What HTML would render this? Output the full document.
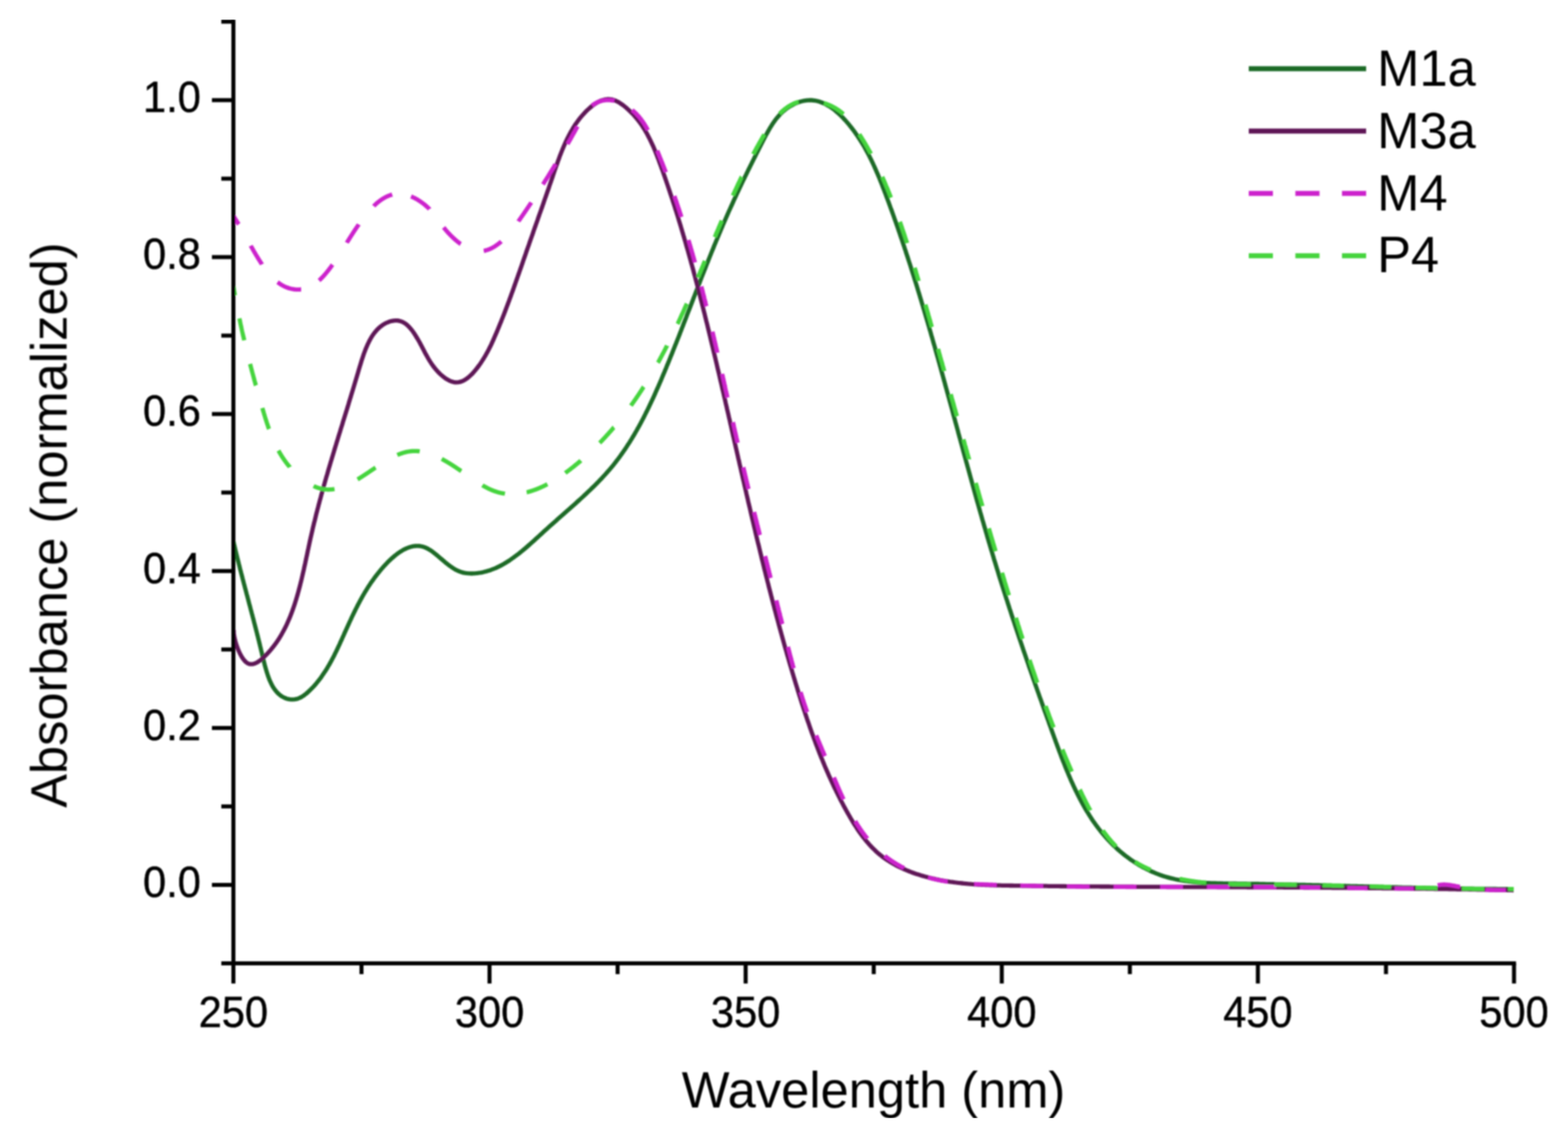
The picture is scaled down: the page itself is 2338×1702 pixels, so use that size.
<!DOCTYPE html>
<html><head><meta charset="utf-8"><title>Absorbance spectra</title>
<style>
html,body{margin:0;padding:0;background:#fff;}
body{width:2338px;height:1702px;overflow:hidden;}
svg{display:block;}
text{font-family:"Liberation Sans",Arial,sans-serif;fill:#000;}
</style></head><body>
<svg width="2338" height="1702" viewBox="0 0 2338 1702">
<defs><filter id="soft" x="0" y="0" width="1" height="1"><feGaussianBlur stdDeviation="1.0"/></filter></defs>
<rect width="2338" height="1702" fill="#fff"/>
<g filter="url(#soft)">
<g fill="none" stroke-linejoin="round">
<path d="M347.9,807.2 L348.7,810.4 L349.4,813.6 L350.2,816.7 L350.9,819.9 L351.6,822.9 L352.4,826.0 L353.1,829.1 L353.9,832.1 L354.6,835.1 L355.4,838.1 L356.1,841.0 L356.9,844.0 L357.6,846.9 L358.3,849.8 L359.1,852.7 L359.8,855.6 L360.6,858.4 L361.3,861.3 L362.0,864.1 L362.8,866.9 L363.5,869.8 L364.3,872.6 L365.0,875.4 L365.7,878.2 L366.5,881.0 L367.2,883.8 L367.9,886.5 L368.7,889.3 L369.4,892.1 L370.2,894.9 L370.9,897.7 L371.6,900.5 L372.4,903.3 L373.1,906.0 L373.8,908.8 L374.6,911.6 L375.3,914.5 L376.1,917.3 L376.8,920.1 L377.6,922.9 L378.3,925.8 L379.0,928.6 L379.8,931.5 L380.5,934.4 L381.3,937.3 L382.0,940.2 L382.8,943.1 L383.5,946.1 L384.3,949.1 L385.0,952.0 L385.8,955.1 L386.5,958.1 L387.3,961.1 L388.0,964.2 L388.8,967.3 L389.5,970.5 L390.3,973.6 L391.0,976.8 L391.8,980.0 L392.6,983.2 L393.4,986.4 L394.2,989.7 L395.0,992.9 L395.9,996.1 L396.8,999.2 L397.7,1002.3 L398.7,1005.4 L399.7,1008.4 L400.8,1011.4 L401.9,1014.3 L403.2,1017.1 L404.4,1019.8 L405.8,1022.4 L407.2,1024.9 L408.8,1027.3 L410.4,1029.5 L412.1,1031.6 L413.9,1033.6 L415.8,1035.4 L417.9,1037.1 L420.0,1038.6 L422.2,1039.9 L424.6,1041.0 L427.0,1042.0 L429.4,1042.7 L431.9,1043.2 L434.4,1043.4 L437.0,1043.4 L439.5,1043.2 L442.1,1042.7 L444.6,1041.9 L447.1,1040.9 L449.6,1039.6 L452.0,1038.1 L454.4,1036.4 L456.8,1034.5 L459.1,1032.5 L461.3,1030.4 L463.5,1028.3 L465.7,1026.1 L467.8,1023.9 L469.8,1021.6 L471.8,1019.3 L473.7,1016.9 L475.6,1014.5 L477.5,1012.1 L479.3,1009.6 L481.0,1007.1 L482.7,1004.6 L484.4,1002.1 L486.1,999.5 L487.7,996.9 L489.2,994.2 L490.8,991.6 L492.3,988.9 L493.8,986.2 L495.2,983.5 L496.7,980.8 L498.1,978.1 L499.4,975.3 L500.8,972.6 L502.1,969.8 L503.5,967.0 L504.8,964.2 L506.1,961.5 L507.3,958.7 L508.6,955.9 L509.9,953.1 L511.1,950.3 L512.4,947.5 L513.6,944.7 L514.9,941.9 L516.1,939.2 L517.4,936.4 L518.6,933.7 L519.9,930.9 L521.1,928.2 L522.4,925.5 L523.7,922.7 L524.9,920.0 L526.2,917.3 L527.5,914.6 L528.8,912.0 L530.1,909.3 L531.5,906.6 L532.8,904.0 L534.2,901.3 L535.6,898.7 L537.0,896.1 L538.4,893.5 L539.8,890.9 L541.3,888.3 L542.8,885.7 L544.3,883.2 L545.9,880.6 L547.4,878.1 L549.0,875.6 L550.7,873.1 L552.3,870.6 L554.0,868.1 L555.8,865.6 L557.5,863.2 L559.3,860.7 L561.2,858.3 L563.0,855.9 L565.0,853.5 L566.9,851.1 L568.9,848.8 L570.9,846.4 L573.0,844.1 L575.2,841.8 L577.3,839.5 L579.5,837.3 L581.8,835.1 L584.0,833.0 L586.4,831.0 L588.7,829.0 L591.1,827.1 L593.4,825.3 L595.9,823.7 L598.3,822.1 L600.8,820.6 L603.2,819.3 L605.7,818.1 L608.2,817.1 L610.7,816.2 L613.3,815.5 L615.8,814.9 L618.3,814.5 L620.9,814.3 L623.4,814.3 L626.0,814.5 L628.5,815.0 L631.1,815.6 L633.6,816.5 L636.1,817.6 L638.6,818.9 L641.2,820.4 L643.7,822.1 L646.2,824.0 L648.7,825.9 L651.2,828.0 L653.8,830.1 L656.3,832.3 L658.9,834.5 L661.4,836.7 L664.0,838.9 L666.7,841.0 L669.3,843.1 L672.0,845.0 L674.7,846.9 L677.4,848.6 L680.1,850.2 L682.9,851.5 L685.8,852.7 L688.6,853.6 L691.5,854.4 L694.5,854.9 L697.4,855.2 L700.3,855.4 L703.3,855.5 L706.2,855.4 L709.1,855.2 L712.0,854.9 L714.8,854.5 L717.6,854.1 L720.4,853.5 L723.1,852.8 L725.9,852.1 L728.6,851.3 L731.3,850.4 L733.9,849.4 L736.5,848.4 L739.2,847.3 L741.7,846.1 L744.3,844.9 L746.8,843.6 L749.4,842.2 L751.9,840.8 L754.4,839.3 L756.8,837.7 L759.3,836.2 L761.7,834.5 L764.1,832.8 L766.5,831.1 L768.9,829.3 L771.3,827.5 L773.7,825.7 L776.1,823.8 L778.4,821.9 L780.7,820.0 L783.1,818.0 L785.4,816.0 L787.7,814.0 L790.0,812.0 L792.3,809.9 L794.6,807.9 L796.9,805.8 L799.2,803.7 L801.5,801.6 L803.8,799.5 L806.1,797.4 L808.4,795.3 L810.6,793.2 L812.9,791.1 L815.2,789.1 L817.5,787.0 L819.8,784.9 L822.1,782.9 L824.4,780.8 L826.7,778.8 L829.0,776.8 L831.3,774.7 L833.6,772.7 L835.9,770.7 L838.2,768.7 L840.5,766.6 L842.7,764.6 L845.0,762.6 L847.3,760.6 L849.6,758.6 L851.8,756.6 L854.1,754.6 L856.4,752.6 L858.6,750.6 L860.8,748.5 L863.1,746.5 L865.3,744.5 L867.5,742.5 L869.7,740.5 L871.9,738.4 L874.1,736.4 L876.3,734.3 L878.4,732.3 L880.6,730.2 L882.7,728.1 L884.8,726.1 L887.0,724.0 L889.0,721.9 L891.1,719.8 L893.2,717.6 L895.2,715.5 L897.3,713.4 L899.3,711.2 L901.3,709.0 L903.3,706.8 L905.2,704.6 L907.2,702.4 L909.1,700.2 L911.0,697.9 L912.9,695.7 L914.8,693.4 L916.6,691.1 L918.4,688.8 L920.2,686.4 L922.0,684.1 L923.8,681.7 L925.5,679.3 L927.2,676.9 L928.9,674.5 L930.6,672.0 L932.3,669.6 L933.9,667.1 L935.5,664.6 L937.2,662.1 L938.8,659.6 L940.3,657.1 L941.9,654.6 L943.4,652.0 L945.0,649.5 L946.5,646.9 L948.0,644.3 L949.5,641.7 L950.9,639.1 L952.4,636.5 L953.8,633.9 L955.3,631.2 L956.7,628.6 L958.1,625.9 L959.5,623.3 L960.8,620.6 L962.2,617.9 L963.5,615.2 L964.9,612.5 L966.2,609.8 L967.5,607.1 L968.8,604.4 L970.1,601.6 L971.4,598.9 L972.7,596.2 L974.0,593.4 L975.2,590.7 L976.5,587.9 L977.7,585.1 L978.9,582.4 L980.1,579.6 L981.4,576.8 L982.6,574.0 L983.8,571.3 L985.0,568.5 L986.2,565.7 L987.3,562.9 L988.5,560.1 L989.7,557.3 L990.9,554.5 L992.0,551.7 L993.2,548.9 L994.3,546.1 L995.5,543.3 L996.6,540.5 L997.8,537.7 L998.9,534.9 L1000.0,532.1 L1001.2,529.3 L1002.3,526.5 L1003.4,523.7 L1004.5,520.9 L1005.6,518.1 L1006.7,515.3 L1007.9,512.5 L1009.0,509.7 L1010.1,506.9 L1011.2,504.1 L1012.3,501.3 L1013.4,498.5 L1014.5,495.7 L1015.6,492.9 L1016.6,490.1 L1017.7,487.3 L1018.8,484.5 L1019.9,481.7 L1021.0,478.9 L1022.1,476.1 L1023.2,473.3 L1024.2,470.5 L1025.3,467.7 L1026.4,464.9 L1027.5,462.1 L1028.6,459.4 L1029.6,456.6 L1030.7,453.8 L1031.8,451.0 L1032.9,448.2 L1033.9,445.4 L1035.0,442.6 L1036.1,439.8 L1037.2,437.0 L1038.3,434.2 L1039.3,431.4 L1040.4,428.6 L1041.5,425.8 L1042.6,423.1 L1043.7,420.3 L1044.7,417.5 L1045.8,414.7 L1046.9,411.9 L1048.0,409.1 L1049.1,406.3 L1050.2,403.6 L1051.3,400.8 L1052.4,398.0 L1053.5,395.2 L1054.6,392.4 L1055.7,389.7 L1056.8,386.9 L1057.9,384.1 L1059.0,381.4 L1060.1,378.6 L1061.2,375.8 L1062.4,373.0 L1063.5,370.3 L1064.6,367.5 L1065.7,364.7 L1066.9,362.0 L1068.0,359.2 L1069.2,356.5 L1070.3,353.7 L1071.5,350.9 L1072.6,348.2 L1073.8,345.4 L1074.9,342.7 L1076.1,339.9 L1077.3,337.2 L1078.4,334.4 L1079.6,331.7 L1080.8,328.9 L1082.0,326.2 L1083.2,323.5 L1084.4,320.7 L1085.6,318.0 L1086.8,315.3 L1088.1,312.5 L1089.3,309.8 L1090.5,307.1 L1091.8,304.3 L1093.0,301.6 L1094.2,298.9 L1095.5,296.2 L1096.8,293.4 L1098.0,290.7 L1099.3,288.0 L1100.6,285.3 L1101.8,282.6 L1103.1,279.9 L1104.4,277.1 L1105.7,274.4 L1107.0,271.7 L1108.3,269.0 L1109.6,266.3 L1110.9,263.6 L1112.3,260.9 L1113.6,258.2 L1114.9,255.5 L1116.2,252.7 L1117.6,250.0 L1118.9,247.3 L1120.3,244.6 L1121.6,241.9 L1123.0,239.2 L1124.3,236.5 L1125.7,233.8 L1127.0,231.1 L1128.4,228.4 L1129.8,225.6 L1131.2,222.9 L1132.5,220.2 L1133.9,217.5 L1135.3,214.8 L1136.7,212.1 L1138.1,209.4 L1139.5,206.6 L1140.9,203.9 L1142.3,201.2 L1143.8,198.6 L1145.3,195.9 L1146.8,193.3 L1148.3,190.6 L1149.9,188.1 L1151.5,185.5 L1153.2,183.0 L1154.9,180.6 L1156.7,178.2 L1158.5,175.9 L1160.5,173.6 L1162.4,171.4 L1164.5,169.2 L1166.6,167.2 L1168.9,165.2 L1171.2,163.3 L1173.6,161.5 L1176.1,159.7 L1178.7,158.1 L1181.5,156.6 L1184.2,155.2 L1187.1,153.9 L1190.0,152.8 L1192.9,151.8 L1195.9,151.0 L1198.8,150.3 L1201.7,149.9 L1204.6,149.6 L1207.5,149.5 L1210.4,149.5 L1213.2,149.8 L1216.0,150.2 L1218.7,150.8 L1221.4,151.6 L1224.1,152.5 L1226.7,153.5 L1229.4,154.7 L1231.9,155.9 L1234.5,157.4 L1237.0,158.9 L1239.4,160.5 L1241.9,162.3 L1244.3,164.1 L1246.6,166.0 L1248.9,168.0 L1251.2,170.1 L1253.5,172.2 L1255.7,174.4 L1257.8,176.7 L1260.0,179.0 L1262.0,181.3 L1264.1,183.7 L1266.1,186.1 L1268.0,188.5 L1270.0,191.0 L1271.8,193.4 L1273.7,195.9 L1275.5,198.4 L1277.2,200.9 L1279.0,203.4 L1280.6,206.0 L1282.3,208.5 L1283.9,211.1 L1285.5,213.7 L1287.1,216.2 L1288.6,218.8 L1290.1,221.5 L1291.5,224.1 L1293.0,226.7 L1294.4,229.4 L1295.8,232.0 L1297.1,234.7 L1298.5,237.4 L1299.8,240.1 L1301.1,242.8 L1302.3,245.5 L1303.6,248.2 L1304.8,250.9 L1306.0,253.6 L1307.2,256.4 L1308.4,259.1 L1309.6,261.9 L1310.7,264.6 L1311.8,267.4 L1312.9,270.2 L1314.1,272.9 L1315.1,275.7 L1316.2,278.5 L1317.3,281.3 L1318.4,284.1 L1319.4,286.9 L1320.5,289.7 L1321.5,292.5 L1322.6,295.3 L1323.6,298.1 L1324.7,300.9 L1325.7,303.7 L1326.7,306.5 L1327.7,309.3 L1328.8,312.1 L1329.8,314.9 L1330.8,317.7 L1331.8,320.5 L1332.8,323.3 L1333.8,326.2 L1334.8,329.0 L1335.8,331.8 L1336.8,334.6 L1337.8,337.5 L1338.8,340.3 L1339.7,343.1 L1340.7,345.9 L1341.7,348.8 L1342.6,351.6 L1343.6,354.4 L1344.6,357.3 L1345.5,360.1 L1346.5,363.0 L1347.4,365.8 L1348.4,368.6 L1349.3,371.5 L1350.3,374.3 L1351.2,377.2 L1352.1,380.0 L1353.1,382.9 L1354.0,385.7 L1354.9,388.6 L1355.8,391.4 L1356.8,394.3 L1357.7,397.1 L1358.6,400.0 L1359.5,402.9 L1360.4,405.7 L1361.3,408.6 L1362.2,411.4 L1363.1,414.3 L1364.0,417.2 L1364.9,420.0 L1365.8,422.9 L1366.7,425.8 L1367.6,428.6 L1368.4,431.5 L1369.3,434.4 L1370.2,437.3 L1371.1,440.1 L1371.9,443.0 L1372.8,445.9 L1373.7,448.8 L1374.5,451.6 L1375.4,454.5 L1376.3,457.4 L1377.1,460.3 L1378.0,463.1 L1378.8,466.0 L1379.7,468.9 L1380.5,471.8 L1381.4,474.7 L1382.2,477.6 L1383.1,480.5 L1383.9,483.3 L1384.8,486.2 L1385.6,489.1 L1386.4,492.0 L1387.3,494.9 L1388.1,497.8 L1388.9,500.7 L1389.8,503.6 L1390.6,506.5 L1391.4,509.4 L1392.2,512.3 L1393.1,515.1 L1393.9,518.0 L1394.7,520.9 L1395.5,523.8 L1396.3,526.7 L1397.1,529.6 L1398.0,532.5 L1398.8,535.4 L1399.6,538.3 L1400.4,541.2 L1401.2,544.1 L1402.0,547.0 L1402.8,549.9 L1403.6,552.8 L1404.4,555.7 L1405.2,558.6 L1406.0,561.5 L1406.8,564.4 L1407.6,567.3 L1408.4,570.2 L1409.2,573.1 L1410.0,576.1 L1410.8,579.0 L1411.6,581.9 L1412.4,584.8 L1413.2,587.7 L1414.0,590.6 L1414.8,593.5 L1415.6,596.4 L1416.4,599.3 L1417.2,602.2 L1418.0,605.1 L1418.8,608.0 L1419.6,610.9 L1420.4,613.8 L1421.1,616.7 L1421.9,619.6 L1422.7,622.5 L1423.5,625.4 L1424.3,628.4 L1425.1,631.3 L1425.9,634.2 L1426.7,637.1 L1427.5,640.0 L1428.3,642.9 L1429.0,645.8 L1429.8,648.7 L1430.6,651.6 L1431.4,654.5 L1432.2,657.4 L1433.0,660.3 L1433.8,663.2 L1434.6,666.1 L1435.4,669.0 L1436.1,671.9 L1436.9,674.8 L1437.7,677.7 L1438.5,680.6 L1439.3,683.5 L1440.1,686.4 L1440.9,689.3 L1441.7,692.2 L1442.5,695.1 L1443.3,698.0 L1444.1,700.9 L1444.9,703.8 L1445.7,706.7 L1446.5,709.6 L1447.3,712.5 L1448.1,715.4 L1448.9,718.3 L1449.7,721.2 L1450.5,724.1 L1451.3,727.0 L1452.1,729.9 L1452.9,732.8 L1453.7,735.7 L1454.5,738.6 L1455.3,741.5 L1456.1,744.4 L1456.9,747.3 L1457.8,750.2 L1458.6,753.1 L1459.4,755.9 L1460.2,758.8 L1461.0,761.7 L1461.8,764.6 L1462.7,767.5 L1463.5,770.4 L1464.3,773.3 L1465.1,776.1 L1466.0,779.0 L1466.8,781.9 L1467.6,784.8 L1468.5,787.7 L1469.3,790.5 L1470.1,793.4 L1471.0,796.3 L1471.8,799.2 L1472.6,802.1 L1473.5,804.9 L1474.3,807.8 L1475.2,810.7 L1476.0,813.5 L1476.9,816.4 L1477.7,819.3 L1478.6,822.1 L1479.5,825.0 L1480.3,827.9 L1481.2,830.7 L1482.0,833.6 L1482.9,836.5 L1483.8,839.3 L1484.7,842.2 L1485.5,845.0 L1486.4,847.9 L1487.3,850.8 L1488.2,853.6 L1489.0,856.5 L1489.9,859.3 L1490.8,862.2 L1491.7,865.0 L1492.6,867.9 L1493.5,870.7 L1494.4,873.6 L1495.3,876.4 L1496.2,879.3 L1497.1,882.1 L1498.0,884.9 L1498.9,887.8 L1499.8,890.6 L1500.7,893.5 L1501.7,896.3 L1502.6,899.2 L1503.5,902.0 L1504.4,904.8 L1505.3,907.7 L1506.3,910.5 L1507.2,913.4 L1508.1,916.2 L1509.0,919.0 L1510.0,921.9 L1510.9,924.7 L1511.9,927.5 L1512.8,930.4 L1513.7,933.2 L1514.7,936.0 L1515.6,938.9 L1516.6,941.7 L1517.5,944.5 L1518.5,947.4 L1519.4,950.2 L1520.4,953.1 L1521.3,955.9 L1522.3,958.7 L1523.3,961.6 L1524.2,964.4 L1525.2,967.2 L1526.1,970.1 L1527.1,972.9 L1528.1,975.7 L1529.1,978.6 L1530.0,981.4 L1531.0,984.2 L1532.0,987.1 L1533.0,989.9 L1533.9,992.7 L1534.9,995.6 L1535.9,998.4 L1536.9,1001.3 L1537.9,1004.1 L1538.9,1006.9 L1539.8,1009.8 L1540.8,1012.6 L1541.8,1015.4 L1542.8,1018.3 L1543.8,1021.1 L1544.8,1024.0 L1545.8,1026.8 L1546.8,1029.7 L1547.8,1032.5 L1548.8,1035.3 L1549.8,1038.2 L1550.8,1041.0 L1551.9,1043.9 L1552.9,1046.7 L1553.9,1049.6 L1554.9,1052.4 L1555.9,1055.3 L1556.9,1058.1 L1557.9,1061.0 L1559.0,1063.8 L1560.0,1066.7 L1561.0,1069.5 L1562.0,1072.4 L1563.1,1075.2 L1564.1,1078.1 L1565.1,1081.0 L1566.1,1083.8 L1567.2,1086.7 L1568.2,1089.6 L1569.2,1092.4 L1570.3,1095.3 L1571.3,1098.2 L1572.3,1101.0 L1573.4,1103.9 L1574.4,1106.8 L1575.5,1109.6 L1576.5,1112.5 L1577.6,1115.3 L1578.6,1118.2 L1579.7,1121.1 L1580.8,1123.9 L1581.9,1126.8 L1582.9,1129.6 L1584.0,1132.5 L1585.1,1135.3 L1586.3,1138.1 L1587.4,1141.0 L1588.5,1143.8 L1589.6,1146.6 L1590.8,1149.4 L1592.0,1152.2 L1593.1,1155.0 L1594.3,1157.8 L1595.5,1160.6 L1596.7,1163.4 L1597.9,1166.1 L1599.2,1168.9 L1600.4,1171.6 L1601.7,1174.3 L1603.0,1177.1 L1604.3,1179.8 L1605.6,1182.5 L1606.9,1185.2 L1608.3,1187.8 L1609.6,1190.5 L1611.0,1193.1 L1612.4,1195.8 L1613.9,1198.4 L1615.3,1201.0 L1616.8,1203.6 L1618.2,1206.1 L1619.7,1208.7 L1621.3,1211.2 L1622.8,1213.7 L1624.4,1216.3 L1626.0,1218.7 L1627.6,1221.2 L1629.2,1223.7 L1630.9,1226.1 L1632.6,1228.5 L1634.3,1230.9 L1636.1,1233.2 L1637.8,1235.6 L1639.6,1237.9 L1641.4,1240.2 L1643.3,1242.5 L1645.2,1244.8 L1647.1,1247.0 L1649.0,1249.2 L1651.0,1251.4 L1653.0,1253.6 L1655.0,1255.7 L1657.1,1257.8 L1659.2,1259.9 L1661.3,1262.0 L1663.5,1264.0 L1665.6,1266.0 L1667.9,1268.0 L1670.1,1270.0 L1672.4,1271.9 L1674.7,1273.8 L1677.1,1275.7 L1679.5,1277.5 L1681.9,1279.3 L1684.3,1281.1 L1686.8,1282.8 L1689.3,1284.5 L1691.8,1286.2 L1694.4,1287.8 L1696.9,1289.4 L1699.5,1290.9 L1702.2,1292.4 L1704.8,1293.9 L1707.5,1295.3 L1710.2,1296.7 L1712.9,1298.0 L1715.6,1299.3 L1718.3,1300.5 L1721.1,1301.7 L1723.8,1302.8 L1726.6,1303.9 L1729.4,1305.0 L1732.3,1306.0 L1735.1,1306.9 L1737.9,1307.8 L1740.8,1308.6 L1743.7,1309.4 L1746.5,1310.1 L1749.4,1310.8 L1752.3,1311.5 L1755.3,1312.1 L1758.2,1312.6 L1761.1,1313.2 L1764.1,1313.6 L1767.0,1314.1 L1770.0,1314.5 L1772.9,1314.9 L1775.9,1315.2 L1778.9,1315.6 L1781.9,1315.9 L1784.9,1316.1 L1787.9,1316.4 L1790.9,1316.6 L1793.9,1316.8 L1796.9,1316.9 L1799.9,1317.1 L1802.9,1317.2 L1806.0,1317.3 L1809.0,1317.4 L1812.0,1317.5 L1815.1,1317.6 L1818.1,1317.7 L1821.1,1317.7 L1824.2,1317.8 L1827.2,1317.8 L1830.3,1317.9 L1833.3,1317.9 L1836.3,1317.9 L1839.4,1318.0 L1842.4,1318.0 L1845.4,1318.1 L1848.5,1318.1 L1851.5,1318.1 L1854.5,1318.2 L1857.6,1318.2 L1860.6,1318.3 L1863.6,1318.3 L1866.7,1318.4 L1869.7,1318.4 L1872.7,1318.5 L1875.7,1318.5 L1878.7,1318.6 L1881.8,1318.6 L1884.8,1318.7 L1887.8,1318.8 L1890.8,1318.8 L1893.8,1318.9 L1896.9,1318.9 L1899.9,1319.0 L1902.9,1319.1 L1905.9,1319.1 L1908.9,1319.2 L1911.9,1319.2 L1914.9,1319.3 L1917.9,1319.4 L1921.0,1319.4 L1924.0,1319.5 L1927.0,1319.6 L1930.0,1319.6 L1933.0,1319.7 L1936.0,1319.8 L1939.0,1319.9 L1942.0,1319.9 L1945.0,1320.0 L1948.0,1320.1 L1951.0,1320.1 L1954.0,1320.2 L1957.0,1320.3 L1960.0,1320.4 L1963.0,1320.4 L1966.0,1320.5 L1969.0,1320.6 L1972.0,1320.7 L1975.0,1320.7 L1978.0,1320.8 L1981.0,1320.9 L1984.0,1321.0 L1987.0,1321.1 L1990.0,1321.1 L1993.0,1321.2 L1996.0,1321.3 L1999.0,1321.4 L2002.0,1321.4 L2005.0,1321.5 L2007.9,1321.6 L2010.9,1321.7 L2013.9,1321.8 L2016.9,1321.8 L2019.9,1321.9 L2022.9,1322.0 L2025.9,1322.1 L2028.9,1322.2 L2031.9,1322.2 L2034.9,1322.3 L2037.9,1322.4 L2040.9,1322.5 L2043.8,1322.5 L2046.8,1322.6 L2049.8,1322.7 L2052.8,1322.8 L2055.8,1322.9 L2058.8,1322.9 L2061.8,1323.0 L2064.8,1323.1 L2067.8,1323.2 L2070.8,1323.2 L2073.8,1323.3 L2076.7,1323.4 L2079.7,1323.5 L2082.7,1323.5 L2085.7,1323.6 L2088.7,1323.7 L2091.7,1323.8 L2094.7,1323.8 L2097.7,1323.9 L2100.7,1324.0 L2103.7,1324.0 L2106.7,1324.1 L2109.7,1324.2 L2112.7,1324.2 L2115.7,1324.3 L2118.7,1324.4 L2121.6,1324.4 L2124.6,1324.5 L2127.6,1324.6 L2130.6,1324.6 L2133.6,1324.7 L2136.6,1324.7 L2139.6,1324.8 L2142.6,1324.9 L2145.6,1324.9 L2148.6,1325.0 L2151.6,1325.0 L2154.6,1325.1 L2157.6,1325.1 L2160.6,1325.2 L2163.6,1325.2 L2166.6,1325.3 L2169.6,1325.3 L2172.7,1325.4 L2175.7,1325.4 L2178.7,1325.5 L2181.7,1325.5 L2184.7,1325.6 L2187.7,1325.6 L2190.7,1325.7 L2193.7,1325.7 L2196.7,1325.7 L2199.7,1325.8 L2202.7,1325.8 L2205.8,1325.8 L2208.8,1325.9 L2211.8,1325.9 L2214.8,1325.9 L2217.8,1326.0 L2220.8,1326.0 L2223.9,1326.0 L2226.9,1326.0 L2229.9,1326.0 L2232.9,1326.1 L2235.9,1326.1 L2239.0,1326.1 L2242.0,1326.1 L2245.0,1326.1 L2248.1,1326.1 L2251.1,1326.1 L2254.1,1326.2 L2257.1,1326.2" stroke="#1f6b28" stroke-width="6.3"/>
<path d="M348.4,939.5 L348.4,941.7 L348.5,944.3 L348.9,947.2 L349.5,950.3 L350.2,953.6 L351.1,957.2 L352.2,960.7 L353.4,964.4 L354.7,968.0 L356.2,971.5 L357.8,974.9 L359.5,978.1 L361.3,981.1 L363.2,983.8 L365.2,986.1 L367.2,988.0 L369.3,989.4 L371.4,990.3 L373.6,990.7 L375.8,990.7 L378.1,990.3 L380.3,989.6 L382.6,988.5 L384.8,987.2 L387.1,985.7 L389.3,983.9 L391.4,982.1 L393.6,980.1 L395.7,978.0 L397.7,976.0 L399.7,973.9 L401.7,971.7 L403.6,969.5 L405.4,967.3 L407.2,965.1 L409.0,962.8 L410.7,960.4 L412.4,958.1 L414.0,955.7 L415.6,953.3 L417.1,950.8 L418.6,948.3 L420.1,945.8 L421.5,943.3 L422.9,940.7 L424.3,938.1 L425.6,935.5 L426.9,932.9 L428.1,930.2 L429.3,927.5 L430.5,924.8 L431.7,922.1 L432.8,919.3 L433.9,916.5 L435.0,913.7 L436.0,910.9 L437.0,908.1 L438.0,905.2 L439.0,902.4 L439.9,899.5 L440.8,896.6 L441.7,893.7 L442.6,890.7 L443.5,887.8 L444.3,884.8 L445.1,881.9 L445.9,878.9 L446.7,875.9 L447.5,872.9 L448.2,869.9 L449.0,866.9 L449.7,863.9 L450.4,860.9 L451.1,857.8 L451.8,854.8 L452.5,851.8 L453.2,848.7 L453.8,845.7 L454.5,842.7 L455.2,839.6 L455.8,836.6 L456.5,833.5 L457.1,830.5 L457.8,827.5 L458.4,824.4 L459.0,821.4 L459.7,818.4 L460.3,815.4 L461.0,812.3 L461.6,809.3 L462.3,806.3 L462.9,803.3 L463.6,800.4 L464.3,797.4 L465.0,794.4 L465.7,791.5 L466.3,788.5 L467.0,785.6 L467.7,782.7 L468.4,779.7 L469.2,776.8 L469.9,773.9 L470.6,771.0 L471.3,768.1 L472.0,765.2 L472.8,762.3 L473.5,759.5 L474.3,756.6 L475.0,753.7 L475.8,750.9 L476.5,748.0 L477.3,745.1 L478.1,742.3 L478.8,739.5 L479.6,736.6 L480.4,733.8 L481.2,730.9 L481.9,728.1 L482.7,725.3 L483.5,722.5 L484.3,719.6 L485.1,716.8 L485.9,714.0 L486.7,711.2 L487.6,708.4 L488.4,705.6 L489.2,702.7 L490.0,699.9 L490.8,697.1 L491.7,694.3 L492.5,691.5 L493.3,688.7 L494.2,685.9 L495.0,683.1 L495.9,680.3 L496.7,677.5 L497.6,674.6 L498.4,671.8 L499.3,669.0 L500.1,666.2 L501.0,663.4 L501.8,660.6 L502.7,657.7 L503.6,654.9 L504.4,652.1 L505.3,649.3 L506.2,646.4 L507.1,643.6 L507.9,640.7 L508.8,637.9 L509.7,635.1 L510.6,632.2 L511.4,629.3 L512.3,626.5 L513.2,623.6 L514.1,620.7 L515.0,617.9 L515.9,615.0 L516.8,612.1 L517.7,609.2 L518.6,606.3 L519.5,603.4 L520.3,600.5 L521.2,597.5 L522.1,594.6 L523.0,591.7 L523.9,588.7 L524.8,585.8 L525.7,582.8 L526.6,579.8 L527.5,576.9 L528.4,573.9 L529.3,570.9 L530.2,567.9 L531.1,564.9 L532.0,561.8 L532.9,558.8 L533.8,555.8 L534.7,552.7 L535.6,549.6 L536.5,546.6 L537.5,543.5 L538.4,540.5 L539.3,537.4 L540.3,534.4 L541.3,531.4 L542.3,528.4 L543.4,525.5 L544.5,522.6 L545.6,519.7 L546.8,516.9 L548.0,514.2 L549.3,511.5 L550.6,508.8 L552.0,506.2 L553.4,503.7 L554.9,501.3 L556.5,499.0 L558.1,496.7 L559.9,494.6 L561.7,492.5 L563.5,490.6 L565.5,488.7 L567.6,487.0 L569.7,485.4 L572.0,483.9 L574.4,482.5 L576.8,481.3 L579.3,480.3 L581.8,479.4 L584.4,478.8 L587.0,478.3 L589.6,478.1 L592.3,478.2 L594.8,478.5 L597.4,479.2 L599.9,480.1 L602.3,481.4 L604.7,482.9 L607.0,484.8 L609.2,486.9 L611.3,489.2 L613.4,491.6 L615.4,494.2 L617.3,496.9 L619.1,499.7 L620.8,502.5 L622.5,505.2 L624.1,508.0 L625.7,510.8 L627.1,513.5 L628.6,516.3 L630.0,519.0 L631.5,521.8 L632.9,524.5 L634.3,527.2 L635.8,529.9 L637.3,532.5 L638.8,535.2 L640.3,537.8 L642.0,540.4 L643.7,542.9 L645.5,545.5 L647.4,548.0 L649.4,550.5 L651.5,552.9 L653.7,555.3 L655.9,557.5 L658.3,559.7 L660.7,561.7 L663.2,563.6 L665.7,565.3 L668.3,566.8 L670.8,568.1 L673.4,569.1 L676.0,569.8 L678.6,570.3 L681.1,570.4 L683.6,570.2 L686.1,569.7 L688.6,568.8 L691.0,567.8 L693.4,566.5 L695.7,564.9 L698.0,563.2 L700.2,561.3 L702.4,559.2 L704.6,557.1 L706.6,554.8 L708.7,552.4 L710.6,550.0 L712.5,547.5 L714.4,545.0 L716.2,542.5 L717.9,539.9 L719.5,537.4 L721.2,534.8 L722.7,532.2 L724.3,529.6 L725.7,527.0 L727.2,524.3 L728.6,521.6 L729.9,519.0 L731.3,516.3 L732.6,513.6 L733.8,510.9 L735.1,508.1 L736.3,505.4 L737.5,502.6 L738.7,499.9 L739.9,497.1 L741.1,494.4 L742.2,491.6 L743.4,488.8 L744.5,486.0 L745.6,483.3 L746.8,480.5 L747.9,477.7 L749.0,474.9 L750.1,472.1 L751.2,469.3 L752.3,466.5 L753.4,463.7 L754.4,460.9 L755.5,458.0 L756.6,455.2 L757.6,452.4 L758.7,449.6 L759.7,446.8 L760.8,443.9 L761.8,441.1 L762.8,438.3 L763.9,435.4 L764.9,432.6 L765.9,429.8 L766.9,426.9 L767.9,424.1 L768.9,421.3 L769.9,418.4 L770.9,415.6 L771.9,412.8 L772.9,409.9 L773.9,407.1 L774.9,404.3 L775.9,401.4 L776.9,398.6 L777.9,395.8 L778.9,392.9 L779.8,390.1 L780.8,387.3 L781.8,384.4 L782.8,381.6 L783.8,378.8 L784.7,376.0 L785.7,373.1 L786.7,370.3 L787.7,367.5 L788.7,364.7 L789.6,361.9 L790.6,359.1 L791.6,356.3 L792.6,353.5 L793.6,350.7 L794.6,347.9 L795.5,345.0 L796.5,342.2 L797.5,339.4 L798.5,336.6 L799.5,333.8 L800.5,331.0 L801.5,328.2 L802.4,325.4 L803.4,322.6 L804.4,319.8 L805.4,317.0 L806.4,314.2 L807.4,311.4 L808.4,308.6 L809.4,305.8 L810.4,302.9 L811.3,300.1 L812.3,297.3 L813.3,294.5 L814.3,291.6 L815.3,288.8 L816.3,285.9 L817.3,283.1 L818.3,280.2 L819.2,277.4 L820.2,274.5 L821.2,271.6 L822.2,268.7 L823.2,265.9 L824.2,263.0 L825.1,260.1 L826.1,257.2 L827.1,254.3 L828.1,251.4 L829.1,248.5 L830.2,245.6 L831.2,242.7 L832.2,239.8 L833.3,236.9 L834.3,234.0 L835.4,231.1 L836.5,228.3 L837.7,225.4 L838.8,222.6 L840.0,219.7 L841.2,216.9 L842.4,214.2 L843.7,211.4 L845.0,208.6 L846.3,205.9 L847.7,203.2 L849.1,200.6 L850.5,197.9 L852.0,195.3 L853.5,192.7 L855.0,190.1 L856.6,187.6 L858.3,185.1 L860.0,182.7 L861.7,180.3 L863.5,177.9 L865.4,175.5 L867.3,173.3 L869.3,171.0 L871.3,168.8 L873.4,166.6 L875.5,164.5 L877.7,162.5 L880.0,160.5 L882.3,158.5 L884.7,156.7 L887.1,155.0 L889.6,153.5 L892.1,152.1 L894.6,150.8 L897.2,149.8 L899.8,149.0 L902.4,148.4 L905.1,148.0 L907.7,147.9 L910.4,148.1 L913.1,148.6 L915.8,149.4 L918.5,150.5 L921.2,151.8 L923.8,153.4 L926.4,155.1 L929.0,156.9 L931.5,158.9 L933.9,160.9 L936.2,163.0 L938.5,165.1 L940.7,167.2 L942.9,169.4 L945.0,171.6 L947.0,173.9 L948.9,176.2 L950.8,178.6 L952.7,180.9 L954.5,183.4 L956.2,185.8 L957.9,188.3 L959.5,190.8 L961.1,193.3 L962.6,195.9 L964.1,198.5 L965.5,201.1 L966.9,203.8 L968.3,206.4 L969.6,209.1 L970.9,211.8 L972.2,214.6 L973.5,217.3 L974.7,220.1 L975.8,222.8 L977.0,225.6 L978.1,228.4 L979.3,231.2 L980.3,234.1 L981.4,236.9 L982.5,239.7 L983.5,242.6 L984.6,245.4 L985.6,248.3 L986.6,251.1 L987.7,254.0 L988.7,256.8 L989.7,259.7 L990.7,262.5 L991.7,265.4 L992.7,268.2 L993.7,271.1 L994.6,273.9 L995.6,276.8 L996.6,279.7 L997.5,282.5 L998.5,285.4 L999.4,288.2 L1000.4,291.1 L1001.3,294.0 L1002.3,296.8 L1003.2,299.7 L1004.1,302.6 L1005.0,305.4 L1006.0,308.3 L1006.9,311.2 L1007.8,314.0 L1008.7,316.9 L1009.6,319.8 L1010.5,322.6 L1011.4,325.5 L1012.2,328.4 L1013.1,331.2 L1014.0,334.1 L1014.9,337.0 L1015.7,339.9 L1016.6,342.8 L1017.4,345.6 L1018.3,348.5 L1019.1,351.4 L1020.0,354.3 L1020.8,357.1 L1021.7,360.0 L1022.5,362.9 L1023.3,365.8 L1024.1,368.7 L1025.0,371.6 L1025.8,374.4 L1026.6,377.3 L1027.4,380.2 L1028.2,383.1 L1029.0,386.0 L1029.8,388.9 L1030.6,391.8 L1031.4,394.7 L1032.2,397.5 L1033.0,400.4 L1033.8,403.3 L1034.5,406.2 L1035.3,409.1 L1036.1,412.0 L1036.9,414.9 L1037.6,417.8 L1038.4,420.7 L1039.1,423.6 L1039.9,426.5 L1040.7,429.4 L1041.4,432.3 L1042.2,435.2 L1042.9,438.1 L1043.7,441.0 L1044.4,443.9 L1045.1,446.8 L1045.9,449.7 L1046.6,452.6 L1047.3,455.5 L1048.1,458.4 L1048.8,461.3 L1049.5,464.2 L1050.3,467.1 L1051.0,470.0 L1051.7,472.9 L1052.4,475.8 L1053.1,478.8 L1053.9,481.7 L1054.6,484.6 L1055.3,487.5 L1056.0,490.4 L1056.7,493.3 L1057.4,496.2 L1058.1,499.1 L1058.8,502.0 L1059.5,505.0 L1060.2,507.9 L1060.9,510.8 L1061.6,513.7 L1062.3,516.6 L1063.0,519.5 L1063.7,522.5 L1064.4,525.4 L1065.1,528.3 L1065.8,531.2 L1066.5,534.1 L1067.2,537.1 L1067.9,540.0 L1068.6,542.9 L1069.2,545.8 L1069.9,548.7 L1070.6,551.7 L1071.3,554.6 L1072.0,557.5 L1072.7,560.4 L1073.3,563.3 L1074.0,566.3 L1074.7,569.2 L1075.4,572.1 L1076.1,575.0 L1076.7,578.0 L1077.4,580.9 L1078.1,583.8 L1078.8,586.7 L1079.4,589.7 L1080.1,592.6 L1080.8,595.5 L1081.5,598.5 L1082.1,601.4 L1082.8,604.3 L1083.5,607.2 L1084.1,610.2 L1084.8,613.1 L1085.5,616.0 L1086.2,618.9 L1086.8,621.9 L1087.5,624.8 L1088.2,627.7 L1088.8,630.7 L1089.5,633.6 L1090.2,636.5 L1090.8,639.5 L1091.5,642.4 L1092.2,645.3 L1092.8,648.2 L1093.5,651.2 L1094.2,654.1 L1094.8,657.0 L1095.5,660.0 L1096.2,662.9 L1096.8,665.8 L1097.5,668.8 L1098.2,671.7 L1098.8,674.6 L1099.5,677.5 L1100.2,680.5 L1100.8,683.4 L1101.5,686.3 L1102.2,689.3 L1102.8,692.2 L1103.5,695.1 L1104.2,698.1 L1104.9,701.0 L1105.5,703.9 L1106.2,706.9 L1106.9,709.8 L1107.5,712.7 L1108.2,715.6 L1108.9,718.6 L1109.6,721.5 L1110.2,724.4 L1110.9,727.4 L1111.6,730.3 L1112.3,733.2 L1112.9,736.1 L1113.6,739.1 L1114.3,742.0 L1115.0,744.9 L1115.6,747.9 L1116.3,750.8 L1117.0,753.7 L1117.7,756.6 L1118.4,759.6 L1119.1,762.5 L1119.7,765.4 L1120.4,768.4 L1121.1,771.3 L1121.8,774.2 L1122.5,777.1 L1123.2,780.1 L1123.9,783.0 L1124.6,785.9 L1125.3,788.8 L1126.0,791.8 L1126.6,794.7 L1127.3,797.6 L1128.0,800.5 L1128.7,803.4 L1129.4,806.4 L1130.1,809.3 L1130.9,812.2 L1131.6,815.1 L1132.3,818.1 L1133.0,821.0 L1133.7,823.9 L1134.4,826.8 L1135.1,829.7 L1135.8,832.7 L1136.5,835.6 L1137.3,838.5 L1138.0,841.4 L1138.7,844.3 L1139.4,847.2 L1140.1,850.2 L1140.9,853.1 L1141.6,856.0 L1142.3,858.9 L1143.1,861.8 L1143.8,864.7 L1144.5,867.6 L1145.3,870.5 L1146.0,873.5 L1146.7,876.4 L1147.5,879.3 L1148.2,882.2 L1149.0,885.1 L1149.7,888.0 L1150.5,890.9 L1151.2,893.8 L1152.0,896.7 L1152.7,899.6 L1153.5,902.5 L1154.3,905.4 L1155.0,908.3 L1155.8,911.2 L1156.6,914.1 L1157.3,917.0 L1158.1,919.9 L1158.9,922.8 L1159.7,925.7 L1160.5,928.6 L1161.2,931.5 L1162.0,934.4 L1162.8,937.3 L1163.6,940.2 L1164.4,943.1 L1165.2,946.0 L1166.0,948.9 L1166.8,951.8 L1167.6,954.7 L1168.4,957.6 L1169.2,960.5 L1170.0,963.3 L1170.8,966.2 L1171.7,969.1 L1172.5,972.0 L1173.3,974.9 L1174.1,977.8 L1175.0,980.6 L1175.8,983.5 L1176.6,986.4 L1177.5,989.3 L1178.3,992.2 L1179.2,995.0 L1180.0,997.9 L1180.9,1000.8 L1181.7,1003.7 L1182.6,1006.5 L1183.4,1009.4 L1184.3,1012.3 L1185.2,1015.2 L1186.0,1018.0 L1186.9,1020.9 L1187.8,1023.8 L1188.7,1026.6 L1189.5,1029.5 L1190.4,1032.4 L1191.3,1035.2 L1192.2,1038.1 L1193.1,1040.9 L1194.0,1043.8 L1194.9,1046.6 L1195.8,1049.5 L1196.8,1052.4 L1197.7,1055.2 L1198.6,1058.1 L1199.6,1060.9 L1200.5,1063.7 L1201.4,1066.6 L1202.4,1069.4 L1203.3,1072.3 L1204.3,1075.1 L1205.3,1077.9 L1206.3,1080.8 L1207.2,1083.6 L1208.2,1086.4 L1209.2,1089.3 L1210.2,1092.1 L1211.2,1094.9 L1212.3,1097.7 L1213.3,1100.5 L1214.3,1103.3 L1215.4,1106.2 L1216.4,1109.0 L1217.5,1111.8 L1218.6,1114.6 L1219.6,1117.4 L1220.7,1120.2 L1221.8,1123.0 L1222.9,1125.7 L1224.0,1128.5 L1225.1,1131.3 L1226.3,1134.1 L1227.4,1136.9 L1228.6,1139.6 L1229.7,1142.4 L1230.9,1145.2 L1232.1,1147.9 L1233.3,1150.7 L1234.5,1153.4 L1235.7,1156.2 L1236.9,1158.9 L1238.2,1161.7 L1239.4,1164.4 L1240.7,1167.1 L1241.9,1169.8 L1243.2,1172.6 L1244.5,1175.3 L1245.8,1178.0 L1247.1,1180.7 L1248.5,1183.4 L1249.8,1186.1 L1251.2,1188.8 L1252.5,1191.5 L1253.9,1194.2 L1255.3,1196.9 L1256.7,1199.5 L1258.1,1202.2 L1259.6,1204.9 L1261.0,1207.5 L1262.5,1210.2 L1264.0,1212.9 L1265.5,1215.5 L1267.0,1218.1 L1268.5,1220.7 L1270.1,1223.4 L1271.6,1226.0 L1273.2,1228.5 L1274.8,1231.1 L1276.5,1233.6 L1278.1,1236.2 L1279.8,1238.7 L1281.5,1241.1 L1283.3,1243.6 L1285.0,1246.0 L1286.8,1248.4 L1288.7,1250.7 L1290.5,1253.1 L1292.4,1255.4 L1294.4,1257.6 L1296.3,1259.9 L1298.3,1262.0 L1300.4,1264.2 L1302.5,1266.3 L1304.6,1268.3 L1306.7,1270.4 L1308.9,1272.3 L1311.2,1274.2 L1313.5,1276.1 L1315.8,1277.9 L1318.2,1279.7 L1320.6,1281.4 L1323.1,1283.1 L1325.6,1284.7 L1328.1,1286.3 L1330.7,1287.8 L1333.3,1289.3 L1335.9,1290.7 L1338.6,1292.1 L1341.3,1293.4 L1344.0,1294.7 L1346.7,1296.0 L1349.5,1297.2 L1352.3,1298.4 L1355.1,1299.5 L1357.9,1300.6 L1360.8,1301.7 L1363.6,1302.7 L1366.5,1303.7 L1369.4,1304.6 L1372.3,1305.5 L1375.3,1306.4 L1378.2,1307.2 L1381.1,1308.0 L1384.1,1308.8 L1387.0,1309.5 L1390.0,1310.2 L1392.9,1310.9 L1395.9,1311.6 L1398.8,1312.2 L1401.8,1312.8 L1404.7,1313.3 L1407.7,1313.9 L1410.7,1314.4 L1413.6,1314.8 L1416.6,1315.3 L1419.6,1315.7 L1422.5,1316.1 L1425.5,1316.5 L1428.5,1316.9 L1431.4,1317.2 L1434.4,1317.5 L1437.4,1317.8 L1440.4,1318.1 L1443.4,1318.4 L1446.4,1318.6 L1449.3,1318.9 L1452.3,1319.1 L1455.3,1319.3 L1458.3,1319.5 L1461.3,1319.6 L1464.3,1319.8 L1467.3,1319.9 L1470.3,1320.1 L1473.3,1320.2 L1476.3,1320.3 L1479.3,1320.4 L1482.2,1320.5 L1485.2,1320.6 L1488.2,1320.6 L1491.2,1320.7 L1494.2,1320.8 L1497.2,1320.8 L1500.2,1320.9 L1503.2,1320.9 L1506.2,1321.0 L1509.2,1321.0 L1512.2,1321.1 L1515.2,1321.1 L1518.2,1321.2 L1521.2,1321.2 L1524.2,1321.3 L1527.2,1321.3 L1530.2,1321.4 L1533.2,1321.4 L1536.2,1321.4 L1539.2,1321.5 L1542.2,1321.5 L1545.2,1321.6 L1548.2,1321.6 L1551.2,1321.6 L1554.3,1321.7 L1557.3,1321.7 L1560.3,1321.7 L1563.3,1321.8 L1566.3,1321.8 L1569.3,1321.8 L1572.3,1321.9 L1575.3,1321.9 L1578.3,1321.9 L1581.3,1322.0 L1584.3,1322.0 L1587.3,1322.0 L1590.3,1322.1 L1593.3,1322.1 L1596.3,1322.1 L1599.3,1322.1 L1602.3,1322.2 L1605.3,1322.2 L1608.3,1322.2 L1611.3,1322.2 L1614.3,1322.3 L1617.3,1322.3 L1620.3,1322.3 L1623.3,1322.3 L1626.3,1322.4 L1629.3,1322.4 L1632.3,1322.4 L1635.3,1322.4 L1638.3,1322.4 L1641.3,1322.5 L1644.3,1322.5 L1647.3,1322.5 L1650.4,1322.5 L1653.4,1322.5 L1656.4,1322.6 L1659.4,1322.6 L1662.4,1322.6 L1665.4,1322.6 L1668.4,1322.6 L1671.4,1322.6 L1674.4,1322.7 L1677.4,1322.7 L1680.4,1322.7 L1683.4,1322.7 L1686.4,1322.7 L1689.4,1322.7 L1692.4,1322.8 L1695.4,1322.8 L1698.4,1322.8 L1701.4,1322.8 L1704.4,1322.8 L1707.4,1322.8 L1710.4,1322.8 L1713.4,1322.8 L1716.4,1322.9 L1719.5,1322.9 L1722.5,1322.9 L1725.5,1322.9 L1728.5,1322.9 L1731.5,1322.9 L1734.5,1322.9 L1737.5,1322.9 L1740.5,1323.0 L1743.5,1323.0 L1746.5,1323.0 L1749.5,1323.0 L1752.5,1323.0 L1755.5,1323.0 L1758.5,1323.0 L1761.5,1323.0 L1764.5,1323.1 L1767.5,1323.1 L1770.5,1323.1 L1773.5,1323.1 L1776.5,1323.1 L1779.5,1323.1 L1782.5,1323.1 L1785.5,1323.1 L1788.6,1323.1 L1791.6,1323.2 L1794.6,1323.2 L1797.6,1323.2 L1800.6,1323.2 L1803.6,1323.2 L1806.6,1323.2 L1809.6,1323.2 L1812.6,1323.2 L1815.6,1323.3 L1818.6,1323.3 L1821.6,1323.3 L1824.6,1323.3 L1827.6,1323.3 L1830.6,1323.3 L1833.6,1323.3 L1836.6,1323.3 L1839.6,1323.4 L1842.6,1323.4 L1845.6,1323.4 L1848.6,1323.4 L1851.6,1323.4 L1854.6,1323.4 L1857.6,1323.4 L1860.6,1323.5 L1863.6,1323.5 L1866.6,1323.5 L1869.7,1323.5 L1872.7,1323.5 L1875.7,1323.5 L1878.7,1323.6 L1881.7,1323.6 L1884.7,1323.6 L1887.7,1323.6 L1890.7,1323.6 L1893.7,1323.6 L1896.7,1323.7 L1899.7,1323.7 L1902.7,1323.7 L1905.7,1323.7 L1908.7,1323.7 L1911.7,1323.7 L1914.7,1323.8 L1917.7,1323.8 L1920.7,1323.8 L1923.7,1323.8 L1926.7,1323.8 L1929.7,1323.9 L1932.7,1323.9 L1935.7,1323.9 L1938.7,1323.9 L1941.7,1323.9 L1944.7,1324.0 L1947.7,1324.0 L1950.7,1324.0 L1953.7,1324.0 L1956.7,1324.0 L1959.7,1324.1 L1962.7,1324.1 L1965.7,1324.1 L1968.7,1324.1 L1971.7,1324.2 L1974.7,1324.2 L1977.7,1324.2 L1980.7,1324.2 L1983.8,1324.2 L1986.8,1324.3 L1989.8,1324.3 L1992.8,1324.3 L1995.8,1324.3 L1998.8,1324.4 L2001.8,1324.4 L2004.8,1324.4 L2007.8,1324.4 L2010.8,1324.5 L2013.8,1324.5 L2016.8,1324.5 L2019.8,1324.6 L2022.8,1324.6 L2025.8,1324.6 L2028.8,1324.6 L2031.8,1324.7 L2034.8,1324.7 L2037.8,1324.7 L2040.8,1324.8 L2043.8,1324.8 L2046.8,1324.8 L2049.8,1324.9 L2052.8,1324.9 L2055.8,1324.9 L2058.8,1324.9 L2061.8,1325.0 L2064.8,1325.0 L2067.8,1325.0 L2070.8,1325.1 L2073.8,1325.1 L2076.8,1325.1 L2079.8,1325.2 L2082.8,1325.2 L2085.8,1325.3 L2088.8,1325.3 L2091.8,1325.3 L2094.8,1325.4 L2097.8,1325.4 L2100.8,1325.4 L2103.8,1325.5 L2106.8,1325.5 L2109.9,1325.5 L2112.9,1325.6 L2115.9,1325.6 L2118.9,1325.7 L2121.9,1325.7 L2124.9,1325.7 L2127.9,1325.8 L2130.9,1325.8 L2133.9,1325.9 L2136.9,1325.9 L2139.9,1326.0 L2142.9,1326.0 L2145.9,1326.0 L2148.9,1326.1 L2151.9,1326.1 L2154.9,1326.2 L2157.9,1326.2 L2160.9,1326.3 L2163.9,1326.3 L2166.9,1326.4 L2169.9,1326.4 L2172.9,1326.5 L2175.9,1326.5 L2178.9,1326.6 L2181.9,1326.6 L2184.9,1326.6 L2187.9,1326.7 L2190.9,1326.8 L2193.9,1326.8 L2196.9,1326.9 L2199.9,1326.9 L2202.9,1327.0 L2205.9,1327.0 L2209.0,1327.1 L2212.0,1327.1 L2215.0,1327.2 L2218.0,1327.2 L2221.0,1327.3 L2224.0,1327.3 L2227.0,1327.4 L2230.0,1327.5 L2233.0,1327.5 L2236.0,1327.6 L2239.0,1327.6 L2242.0,1327.7 L2245.0,1327.7 L2248.0,1327.8 L2251.0,1327.9 L2254.0,1327.9 L2257.0,1328.0" stroke="#5e1557" stroke-width="6.3"/>
<path d="M347.9,322.0 L348.3,322.6 L348.7,323.3 L349.1,323.9 L349.6,324.6 L350.0,325.2 L350.4,325.8 L350.8,326.5 L351.2,327.1 L351.6,327.8 L352.0,328.4 L352.4,329.0 L352.8,329.7 L353.2,330.3 L353.6,331.0 L354.0,331.6 L354.4,332.3 L354.8,332.9 L355.2,333.6 L355.6,334.2 L355.9,334.6 M373.9,366.4 L374.2,367.1 L374.6,367.7 L374.9,368.4 L375.3,369.0 L375.7,369.7 L376.0,370.3 L376.4,371.0 L376.8,371.6 L377.1,372.3 L377.5,372.9 L377.9,373.6 L378.3,374.2 L378.6,374.9 L379.0,375.5 L379.4,376.2 L379.7,376.8 L380.1,377.5 L380.5,378.1 L380.9,378.7 L381.3,379.4 L381.6,380.0 L382.0,380.7 L382.4,381.3 L382.8,382.0 L383.2,382.6 L383.6,383.3 L384.0,383.9 L384.4,384.5 L384.8,385.2 L385.2,385.8 L385.5,386.5 L385.9,387.1 L386.4,387.7 L386.8,388.4 L387.2,389.0 L387.6,389.7 L388.0,390.3 L388.4,390.9 L388.8,391.6 L389.2,392.2 L389.6,392.8 L390.1,393.5 L390.5,394.1 L390.6,394.3 M413.9,420.9 L414.5,421.3 L415.1,421.8 L415.7,422.2 L416.3,422.6 L416.9,423.1 L417.5,423.5 L418.1,423.9 L418.7,424.3 L419.4,424.7 L420.0,425.0 L420.6,425.4 L421.3,425.8 L421.9,426.1 L422.6,426.5 L423.2,426.8 L423.9,427.1 L424.6,427.5 L425.2,427.8 L425.9,428.1 L426.6,428.3 L427.3,428.6 L428.0,428.9 L428.7,429.1 L429.4,429.4 L430.1,429.6 L430.8,429.9 L431.5,430.1 L432.2,430.3 L433.0,430.5 L433.7,430.6 L434.5,430.8 L435.2,431.0 L435.9,431.1 L436.7,431.3 L437.4,431.4 L438.2,431.5 L439.0,431.6 L439.7,431.7 L440.5,431.8 L441.2,431.8 L442.0,431.9 L442.7,431.9 L443.5,431.9 L444.2,431.9 L445.0,431.9 L445.8,431.9 L446.5,431.9 L447.2,431.8 L448.0,431.8 L448.7,431.7 L449.0,431.7 M475.7,418.4 L476.3,417.9 L476.9,417.4 L477.4,416.8 L478.0,416.3 L478.5,415.8 L479.1,415.2 L479.6,414.7 L480.2,414.1 L480.7,413.6 L481.3,413.0 L481.8,412.4 L482.3,411.9 L482.8,411.3 L483.4,410.7 L483.9,410.1 L484.4,409.5 L484.9,408.9 L485.4,408.3 L485.9,407.7 L486.4,407.1 L486.9,406.5 L487.4,405.9 L487.9,405.3 L488.4,404.7 L488.9,404.1 L489.4,403.5 L489.9,402.8 L490.4,402.2 L490.8,401.6 L491.3,401.0 L491.8,400.3 L492.3,399.7 L492.7,399.1 L493.2,398.5 L493.7,397.8 L494.1,397.2 L494.6,396.6 L495.0,395.9 L495.5,395.3 L495.8,394.9 M517.2,362.1 L517.5,361.5 L517.9,360.8 L518.3,360.2 L518.7,359.6 L519.1,359.0 L519.4,358.4 L519.8,357.8 L520.2,357.2 L520.6,356.6 L521.0,355.9 L521.4,355.3 L521.8,354.7 L522.1,354.1 L522.5,353.5 L522.9,352.9 L523.3,352.2 L523.7,351.6 L524.1,351.0 L524.5,350.4 L524.9,349.8 L525.3,349.2 L525.7,348.5 L526.1,347.9 L526.5,347.3 L526.9,346.7 L527.3,346.1 L527.7,345.4 L528.1,344.8 L528.5,344.2 L528.9,343.6 L529.4,342.9 L529.8,342.3 L530.2,341.7 L530.6,341.0 L531.0,340.4 L531.4,339.8 L531.9,339.2 L532.3,338.5 L532.7,337.9 L533.2,337.3 L533.6,336.6 L534.0,336.0 L534.5,335.4 L534.9,334.7 L534.9,334.7 M557.3,307.4 L557.8,306.8 L558.4,306.3 L559.0,305.8 L559.5,305.2 L560.1,304.7 L560.7,304.2 L561.2,303.7 L561.8,303.2 L562.4,302.7 L563.0,302.2 L563.6,301.7 L564.1,301.3 L564.7,300.8 L565.3,300.3 L565.9,299.9 L566.5,299.4 L567.1,299.0 L567.7,298.6 L568.3,298.1 L568.9,297.7 L569.5,297.3 L570.1,296.9 L570.7,296.5 L571.4,296.1 L572.0,295.8 L572.6,295.4 L573.2,295.0 L573.8,294.7 L574.5,294.3 L575.1,294.0 L575.7,293.7 L576.4,293.4 L577.0,293.1 L577.6,292.8 L578.3,292.5 L578.9,292.2 L579.6,292.0 L580.2,291.7 L580.9,291.5 L581.5,291.2 L582.2,291.0 L582.8,290.8 L583.5,290.6 L584.2,290.4 L584.8,290.2 L584.8,290.2 M612.9,293.0 L613.6,293.3 L614.3,293.6 L615.0,293.9 L615.7,294.3 L616.4,294.6 L617.2,294.9 L617.9,295.3 L618.6,295.7 L619.3,296.0 L620.0,296.4 L620.7,296.8 L621.4,297.2 L622.1,297.6 L622.8,298.0 L623.5,298.4 L624.1,298.9 L624.8,299.3 L625.5,299.7 L626.2,300.2 L626.8,300.6 L627.5,301.1 L628.2,301.6 L628.8,302.0 L629.5,302.5 L630.1,303.0 L630.8,303.5 L631.4,304.0 L632.0,304.4 L632.6,304.9 L633.3,305.4 L633.9,305.9 L634.5,306.5 L635.1,307.0 L635.7,307.5 L636.3,308.0 L636.8,308.5 L637.4,309.0 L638.0,309.6 L638.5,310.1 L639.1,310.6 L639.6,311.2 L640.2,311.7 L640.3,311.9 M661.5,339.2 L662.0,339.8 L662.5,340.4 L662.9,341.0 L663.4,341.6 L663.9,342.2 L664.4,342.8 L664.9,343.4 L665.4,343.9 L665.9,344.5 L666.4,345.1 L666.9,345.7 L667.5,346.3 L668.0,346.9 L668.5,347.5 L669.1,348.1 L669.6,348.6 L670.1,349.2 L670.7,349.8 L671.3,350.4 L671.8,350.9 L672.4,351.5 L672.9,352.1 L673.5,352.6 L674.1,353.2 L674.7,353.7 L675.2,354.3 L675.8,354.9 L676.4,355.4 L677.0,355.9 L677.6,356.5 L678.2,357.0 L678.8,357.5 L679.4,358.1 L680.0,358.6 L680.6,359.1 L681.3,359.6 L681.9,360.1 L682.5,360.6 L683.1,361.1 L683.8,361.6 L684.4,362.1 L685.0,362.5 L685.7,363.0 L686.3,363.5 L687.0,363.9 L687.0,363.9 M721.3,374.2 L722.0,374.1 L722.7,373.9 L723.3,373.8 L724.0,373.6 L724.7,373.4 L725.4,373.2 L726.1,373.0 L726.8,372.8 L727.5,372.6 L728.2,372.3 L728.8,372.1 L729.5,371.8 L730.2,371.5 L730.9,371.2 L731.5,370.9 L732.2,370.6 L732.9,370.3 L733.5,369.9 L734.2,369.6 L734.9,369.2 L735.5,368.9 L736.2,368.5 L736.8,368.1 L737.5,367.7 L738.1,367.3 L738.7,366.9 L739.4,366.4 L740.0,366.0 L740.7,365.6 L741.3,365.1 L741.9,364.7 L742.5,364.2 L743.1,363.8 L743.7,363.3 L744.4,362.8 L745.0,362.3 L745.5,361.8 L746.1,361.4 L746.7,360.9 L747.3,360.4 L747.5,360.2 M773.0,330.2 L773.4,329.5 L773.8,328.9 L774.3,328.3 L774.7,327.7 L775.1,327.1 L775.6,326.4 L776.0,325.8 L776.4,325.2 L776.9,324.6 L777.3,324.0 L777.7,323.4 L778.2,322.7 L778.6,322.1 L779.0,321.5 L779.5,320.9 L779.9,320.2 L780.3,319.6 L780.7,319.0 L781.2,318.4 L781.6,317.8 L782.0,317.1 L782.5,316.5 L782.9,315.9 L783.3,315.3 L783.7,314.6 L784.2,314.0 L784.6,313.4 L785.0,312.8 L785.4,312.1 L785.8,311.5 L786.3,310.9 L786.7,310.3 L787.1,309.6 L787.5,309.0 L788.0,308.4 L788.4,307.8 L788.8,307.1 L789.2,306.5 L789.6,305.9 L790.0,305.3 L790.5,304.6 L790.9,304.0 L791.3,303.4 L791.7,302.8 L792.1,302.1 L792.1,302.1 M809.6,275.0 L810.0,274.4 L810.4,273.8 L810.8,273.1 L811.2,272.5 L811.6,271.9 L812.0,271.2 L812.4,270.6 L812.8,270.0 L813.2,269.3 L813.6,268.7 L814.0,268.1 L814.4,267.5 L814.8,266.8 L815.2,266.2 L815.6,265.6 L816.0,264.9 L816.4,264.3 L816.8,263.7 L817.2,263.0 L817.6,262.4 L817.9,261.8 L818.3,261.1 L818.7,260.5 L819.1,259.9 L819.5,259.2 L819.9,258.6 L820.3,258.0 L820.7,257.3 L821.1,256.7 L821.5,256.1 L821.9,255.4 L822.3,254.8 L822.6,254.2 L823.0,253.5 L823.4,252.9 L823.8,252.3 L824.2,251.6 L824.6,251.0 L825.0,250.4 L825.4,249.7 L825.8,249.1 L826.1,248.5 L826.5,247.8 L826.9,247.2 L827.3,246.6 L827.7,245.9 L828.1,245.3 L828.3,244.9 M846.3,214.9 L846.7,214.2 L847.0,213.6 L847.4,212.9 L847.8,212.3 L848.2,211.6 L848.6,211.0 L848.9,210.3 L849.3,209.7 L849.7,209.0 L850.1,208.4 L850.4,207.7 L850.8,207.0 L851.2,206.4 L851.6,205.7 L851.9,205.1 L852.3,204.4 L852.7,203.7 L853.0,203.1 L853.4,202.4 L853.8,201.7 L854.2,201.1 L854.5,200.4 L854.9,199.7 L855.3,199.1 L855.7,198.4 L856.0,197.7 L856.4,197.1 L856.8,196.4 L857.2,195.7 L857.5,195.0 L857.9,194.4 L858.3,193.7 L858.6,193.0 L859.0,192.3 L859.4,191.6 L859.7,191.0 L860.1,190.3 L860.5,189.6 L860.9,188.9 L861.0,188.7 M882.7,157.5 L883.3,157.1 L883.8,156.6 L884.4,156.2 L885.0,155.8 L885.6,155.4 L886.2,155.0 L886.8,154.7 L887.4,154.3 L888.0,154.0 L888.6,153.6 L889.3,153.3 L889.9,153.0 L890.6,152.7 L891.2,152.4 L891.9,152.1 L892.5,151.9 L893.2,151.6 L893.9,151.4 L894.5,151.2 L895.2,151.0 L895.9,150.8 L896.6,150.6 L897.3,150.4 L898.0,150.2 L898.7,150.1 L899.4,149.9 L900.1,149.8 L900.8,149.7 L901.5,149.6 L902.3,149.5 L903.0,149.4 L903.7,149.4 L904.4,149.3 L905.2,149.3 L905.9,149.3 L906.7,149.3 L907.4,149.3 L908.1,149.3 L908.9,149.4 L909.6,149.4 L910.4,149.5 L911.1,149.6 L911.9,149.7 L912.6,149.8 L913.4,149.9 L914.2,150.0 L914.9,150.2 L915.7,150.3 L915.9,150.4 M942.6,164.2 L943.2,164.7 L943.8,165.2 L944.3,165.7 L944.9,166.2 L945.5,166.7 L946.0,167.2 L946.6,167.7 L947.1,168.2 L947.6,168.7 L948.2,169.2 L948.7,169.8 L949.2,170.3 L949.7,170.8 L950.2,171.4 L950.7,171.9 L951.2,172.5 L951.7,173.0 L952.2,173.6 L952.7,174.1 L953.2,174.7 L953.6,175.3 L954.1,175.8 L954.6,176.4 L955.0,177.0 L955.5,177.6 L955.9,178.1 L956.4,178.7 L956.8,179.3 L957.2,179.9 L957.7,180.5 L958.1,181.1 L958.5,181.7 L958.9,182.3 L959.3,182.9 L959.8,183.5 L960.2,184.2 L960.6,184.8 L961.0,185.4 L961.4,186.0 L961.7,186.7 L962.1,187.3 L962.5,187.9 L962.9,188.5 L963.3,189.2 L963.6,189.8 L964.0,190.5 L964.4,191.1 L964.7,191.8 L965.1,192.4 L965.5,193.1 L965.8,193.7 L966.0,194.1 M980.0,224.8 L980.3,225.5 L980.6,226.2 L980.8,226.9 L981.1,227.6 L981.4,228.3 L981.7,229.0 L982.0,229.7 L982.3,230.4 L982.6,231.1 L982.8,231.8 L983.1,232.5 L983.4,233.2 L983.7,233.9 L984.0,234.6 L984.2,235.3 L984.5,236.0 L984.8,236.7 L985.1,237.4 L985.4,238.1 L985.6,238.8 L985.9,239.5 L986.2,240.2 L986.5,240.9 L986.7,241.5 L987.0,242.2 L987.3,242.9 L987.6,243.6 L987.9,244.3 L988.1,245.0 L988.4,245.7 L988.7,246.4 L988.9,247.1 L989.2,247.8 L989.5,248.5 L989.8,249.2 L990.0,249.9 L990.3,250.6 L990.6,251.3 L990.8,252.0 L991.1,252.7 L991.4,253.4 L991.6,254.1 L991.9,254.8 L992.2,255.5 L992.5,256.2 L992.7,256.9 L992.7,256.9 M1005.6,292.4 L1005.8,293.1 L1006.1,293.8 L1006.3,294.5 L1006.6,295.2 L1006.8,296.0 L1007.0,296.7 L1007.3,297.4 L1007.5,298.1 L1007.8,298.8 L1008.0,299.5 L1008.3,300.2 L1008.5,300.9 L1008.7,301.6 L1009.0,302.3 L1009.2,303.0 L1009.5,303.8 L1009.7,304.5 L1009.9,305.2 L1010.2,305.9 L1010.4,306.6 L1010.7,307.3 L1010.9,308.0 L1011.1,308.7 L1011.4,309.4 L1011.6,310.1 L1011.8,310.9 L1012.1,311.6 L1012.3,312.3 L1012.5,313.0 L1012.8,313.7 L1013.0,314.4 L1013.2,315.1 L1013.5,315.8 L1013.7,316.6 L1013.9,317.3 L1014.2,318.0 L1014.4,318.7 L1014.6,319.4 L1014.9,320.1 L1015.1,320.8 L1015.3,321.5 L1015.6,322.2 L1015.8,323.0 L1016.0,323.7 L1016.0,323.7 M1026.6,358.0 L1026.8,358.7 L1027.0,359.5 L1027.2,360.2 L1027.5,360.9 L1027.7,361.6 L1027.9,362.3 L1028.1,363.1 L1028.3,363.8 L1028.5,364.5 L1028.7,365.2 L1028.9,365.9 L1029.1,366.7 L1029.4,367.4 L1029.6,368.1 L1029.8,368.8 L1030.0,369.5 L1030.2,370.3 L1030.4,371.0 L1030.6,371.7 L1030.8,372.4 L1031.0,373.1 L1031.2,373.9 L1031.4,374.6 L1031.6,375.3 L1031.8,376.0 L1032.0,376.7 L1032.3,377.5 L1032.5,378.2 L1032.7,378.9 L1032.9,379.6 L1033.1,380.3 L1033.3,381.1 L1033.5,381.8 L1033.7,382.5 L1033.9,383.2 L1034.1,383.9 L1034.3,384.7 L1034.5,385.4 L1034.7,386.1 L1034.9,386.8 L1035.1,387.5 L1035.3,388.3 L1035.5,389.0 L1035.7,389.7 L1035.9,390.4 L1036.1,391.2 L1036.2,391.6 M1045.8,427.4 L1046.0,428.1 L1046.2,428.8 L1046.4,429.5 L1046.5,430.3 L1046.7,431.0 L1046.9,431.7 L1047.1,432.4 L1047.3,433.2 L1047.5,433.9 L1047.7,434.6 L1047.8,435.4 L1048.0,436.1 L1048.2,436.8 L1048.4,437.5 L1048.6,438.3 L1048.8,439.0 L1049.0,439.7 L1049.1,440.4 L1049.3,441.2 L1049.5,441.9 L1049.7,442.6 L1049.9,443.4 L1050.1,444.1 L1050.2,444.8 L1050.4,445.5 L1050.6,446.3 L1050.8,447.0 L1051.0,447.7 L1051.2,448.4 L1051.3,449.2 L1051.5,449.9 L1051.7,450.6 L1051.9,451.4 L1052.1,452.1 L1052.2,452.8 L1052.4,453.5 L1052.6,454.3 L1052.8,455.0 L1053.0,455.7 L1053.1,456.5 L1053.3,456.9 M1062.4,494.6 L1062.5,495.4 L1062.7,496.1 L1062.9,496.8 L1063.0,497.6 L1063.2,498.3 L1063.4,499.0 L1063.6,499.7 L1063.7,500.5 L1063.9,501.2 L1064.1,501.9 L1064.2,502.7 L1064.4,503.4 L1064.6,504.1 L1064.8,504.9 L1064.9,505.6 L1065.1,506.3 L1065.3,507.1 L1065.4,507.8 L1065.6,508.5 L1065.8,509.3 L1065.9,510.0 L1066.1,510.7 L1066.3,511.4 L1066.4,512.2 L1066.6,512.9 L1066.8,513.6 L1067.0,514.4 L1067.1,515.1 L1067.3,515.8 L1067.5,516.6 L1067.6,517.3 L1067.8,518.0 L1068.0,518.8 L1068.1,519.5 L1068.3,520.2 L1068.5,521.0 L1068.6,521.7 L1068.8,522.4 L1069.0,523.2 L1069.1,523.9 L1069.3,524.6 L1069.5,525.4 L1069.6,526.1 L1069.6,526.1 M1076.8,557.6 L1076.9,558.3 L1077.1,559.0 L1077.3,559.8 L1077.4,560.5 L1077.6,561.2 L1077.8,562.0 L1077.9,562.7 L1078.1,563.4 L1078.3,564.2 L1078.4,564.9 L1078.6,565.6 L1078.8,566.4 L1078.9,567.1 L1079.1,567.8 L1079.2,568.6 L1079.4,569.3 L1079.6,570.0 L1079.7,570.8 L1079.9,571.5 L1080.1,572.2 L1080.2,573.0 L1080.4,573.7 L1080.6,574.4 L1080.7,575.2 L1080.9,575.9 L1081.0,576.6 L1081.2,577.4 L1081.4,578.1 L1081.5,578.8 L1081.7,579.6 L1081.9,580.3 L1082.0,581.0 L1082.2,581.8 L1082.4,582.5 L1082.5,583.2 L1082.7,584.0 L1082.8,584.7 L1083.0,585.4 L1083.2,586.2 L1083.3,586.9 L1083.5,587.6 L1083.7,588.4 L1083.8,589.1 L1084.0,589.8 L1084.1,590.6 L1084.3,591.3 L1084.5,592.0 L1084.6,592.8 L1084.7,593.0 M1092.9,629.9 L1093.1,630.6 L1093.3,631.3 L1093.4,632.1 L1093.6,632.8 L1093.8,633.5 L1093.9,634.3 L1094.1,635.0 L1094.3,635.7 L1094.4,636.5 L1094.6,637.2 L1094.7,637.9 L1094.9,638.7 L1095.1,639.4 L1095.2,640.1 L1095.4,640.9 L1095.6,641.6 L1095.7,642.3 L1095.9,643.0 L1096.1,643.8 L1096.2,644.5 L1096.4,645.2 L1096.6,646.0 L1096.7,646.7 L1096.9,647.4 L1097.1,648.2 L1097.2,648.9 L1097.4,649.6 L1097.6,650.4 L1097.7,651.1 L1097.9,651.8 L1098.1,652.6 L1098.2,653.3 L1098.4,654.0 L1098.6,654.8 L1098.7,655.5 L1098.9,656.2 L1099.1,656.9 L1099.2,657.7 L1099.4,658.4 L1099.6,659.1 L1099.7,659.9 L1099.9,660.6 L1099.9,660.6 M1108.4,697.1 L1108.6,697.8 L1108.7,698.6 L1108.9,699.3 L1109.1,700.0 L1109.2,700.8 L1109.4,701.5 L1109.6,702.2 L1109.8,702.9 L1109.9,703.7 L1110.1,704.4 L1110.3,705.1 L1110.5,705.9 L1110.6,706.6 L1110.8,707.3 L1111.0,708.0 L1111.1,708.8 L1111.3,709.5 L1111.5,710.2 L1111.7,711.0 L1111.8,711.7 L1112.0,712.4 L1112.2,713.1 L1112.4,713.9 L1112.5,714.6 L1112.7,715.3 L1112.9,716.1 L1113.1,716.8 L1113.2,717.5 L1113.4,718.2 L1113.6,719.0 L1113.8,719.7 L1113.9,720.4 L1114.1,721.2 L1114.3,721.9 L1114.5,722.6 L1114.6,723.3 L1114.8,724.1 L1115.0,724.8 L1115.2,725.5 L1115.3,726.3 L1115.5,727.0 L1115.7,727.7 L1115.9,728.4 L1116.0,729.2 L1116.2,729.7 M1124.5,763.8 L1124.7,764.6 L1124.9,765.3 L1125.1,766.0 L1125.2,766.7 L1125.4,767.5 L1125.6,768.2 L1125.8,768.9 L1126.0,769.7 L1126.1,770.4 L1126.3,771.1 L1126.5,771.8 L1126.7,772.6 L1126.9,773.3 L1127.0,774.0 L1127.2,774.7 L1127.4,775.5 L1127.6,776.2 L1127.8,776.9 L1127.9,777.7 L1128.1,778.4 L1128.3,779.1 L1128.5,779.8 L1128.7,780.6 L1128.8,781.3 L1129.0,782.0 L1129.2,782.7 L1129.4,783.5 L1129.6,784.2 L1129.7,784.9 L1129.9,785.6 L1130.1,786.4 L1130.3,787.1 L1130.5,787.8 L1130.6,788.6 L1130.8,789.3 L1131.0,790.0 L1131.2,790.7 L1131.4,791.5 L1131.5,792.2 L1131.7,792.9 L1131.9,793.6 L1132.1,794.4 L1132.3,795.1 L1132.5,795.8 L1132.6,796.6 L1132.8,797.3 L1133.0,798.0 L1133.1,798.2 M1140.9,829.5 L1141.1,830.2 L1141.3,831.0 L1141.5,831.7 L1141.6,832.4 L1141.8,833.1 L1142.0,833.9 L1142.2,834.6 L1142.4,835.3 L1142.6,836.0 L1142.7,836.8 L1142.9,837.5 L1143.1,838.2 L1143.3,839.0 L1143.5,839.7 L1143.7,840.4 L1143.8,841.1 L1144.0,841.9 L1144.2,842.6 L1144.4,843.3 L1144.6,844.0 L1144.8,844.8 L1144.9,845.5 L1145.1,846.2 L1145.3,847.0 L1145.5,847.7 L1145.7,848.4 L1145.9,849.1 L1146.0,849.9 L1146.2,850.6 L1146.4,851.3 L1146.6,852.0 L1146.8,852.8 L1147.0,853.5 L1147.1,854.2 L1147.3,855.0 L1147.5,855.7 L1147.7,856.4 L1147.9,857.1 L1148.1,857.9 L1148.2,858.6 L1148.4,859.3 L1148.6,860.0 L1148.8,860.8 L1149.0,861.5 L1149.2,862.2 L1149.2,862.2 M1157.6,895.5 L1157.7,896.2 L1157.9,896.9 L1158.1,897.7 L1158.3,898.4 L1158.5,899.1 L1158.7,899.9 L1158.8,900.6 L1159.0,901.3 L1159.2,902.0 L1159.4,902.8 L1159.6,903.5 L1159.8,904.2 L1159.9,905.0 L1160.1,905.7 L1160.3,906.4 L1160.5,907.1 L1160.7,907.9 L1160.9,908.6 L1161.0,909.3 L1161.2,910.1 L1161.4,910.8 L1161.6,911.5 L1161.8,912.3 L1162.0,913.0 L1162.1,913.7 L1162.3,914.4 L1162.5,915.2 L1162.7,915.9 L1162.9,916.6 L1163.1,917.4 L1163.2,918.1 L1163.4,918.8 L1163.6,919.6 L1163.8,920.3 L1164.0,921.0 L1164.2,921.7 L1164.3,922.5 L1164.5,923.2 L1164.7,923.9 L1164.9,924.7 L1165.1,925.4 L1165.3,926.1 L1165.4,926.9 L1165.6,927.6 L1165.8,928.3 L1166.0,929.0 L1166.2,929.8 L1166.3,930.5 L1166.5,931.0 M1175.0,964.9 L1175.2,965.6 L1175.3,966.3 L1175.5,967.0 L1175.7,967.8 L1175.9,968.5 L1176.1,969.2 L1176.3,970.0 L1176.5,970.7 L1176.7,971.4 L1176.8,972.2 L1177.0,972.9 L1177.2,973.6 L1177.4,974.3 L1177.6,975.1 L1177.8,975.8 L1178.0,976.5 L1178.2,977.3 L1178.4,978.0 L1178.5,978.7 L1178.7,979.4 L1178.9,980.2 L1179.1,980.9 L1179.3,981.6 L1179.5,982.4 L1179.7,983.1 L1179.9,983.8 L1180.1,984.5 L1180.3,985.3 L1180.5,986.0 L1180.6,986.7 L1180.8,987.4 L1181.0,988.2 L1181.2,988.9 L1181.4,989.6 L1181.6,990.4 L1181.8,991.1 L1182.0,991.8 L1182.2,992.5 L1182.4,993.3 L1182.6,994.0 L1182.8,994.7 L1183.0,995.4 L1183.2,996.2 L1183.4,996.9 L1183.4,996.9 M1193.7,1032.4 L1193.9,1033.1 L1194.1,1033.8 L1194.3,1034.5 L1194.6,1035.2 L1194.8,1035.9 L1195.0,1036.7 L1195.2,1037.4 L1195.5,1038.1 L1195.7,1038.8 L1195.9,1039.5 L1196.2,1040.2 L1196.4,1040.9 L1196.6,1041.6 L1196.8,1042.3 L1197.1,1043.1 L1197.3,1043.8 L1197.5,1044.5 L1197.8,1045.2 L1198.0,1045.9 L1198.2,1046.6 L1198.5,1047.3 L1198.7,1048.0 L1198.9,1048.7 L1199.2,1049.4 L1199.4,1050.1 L1199.6,1050.8 L1199.9,1051.5 L1200.1,1052.2 L1200.4,1052.9 L1200.6,1053.7 L1200.8,1054.4 L1201.1,1055.1 L1201.3,1055.8 L1201.6,1056.5 L1201.8,1057.2 L1202.1,1057.9 L1202.3,1058.6 L1202.6,1059.3 L1202.8,1060.0 L1203.0,1060.7 L1203.3,1061.4 L1203.5,1062.1 L1203.6,1062.3 M1217.0,1096.9 L1217.3,1097.6 L1217.6,1098.2 L1217.9,1098.9 L1218.1,1099.6 L1218.4,1100.3 L1218.7,1101.0 L1219.0,1101.7 L1219.3,1102.4 L1219.6,1103.1 L1219.9,1103.7 L1220.1,1104.4 L1220.4,1105.1 L1220.7,1105.8 L1221.0,1106.5 L1221.3,1107.2 L1221.6,1107.9 L1221.9,1108.5 L1222.2,1109.2 L1222.4,1109.9 L1222.7,1110.6 L1223.0,1111.3 L1223.3,1112.0 L1223.6,1112.7 L1223.9,1113.4 L1224.2,1114.0 L1224.5,1114.7 L1224.8,1115.4 L1225.0,1116.1 L1225.3,1116.8 L1225.6,1117.5 L1225.9,1118.2 L1226.2,1118.9 L1226.5,1119.6 L1226.8,1120.2 L1227.1,1120.9 L1227.4,1121.6 L1227.7,1122.3 L1228.0,1123.0 L1228.3,1123.7 L1228.5,1124.4 L1228.8,1125.1 L1229.1,1125.8 L1229.4,1126.5 L1229.7,1127.2 L1230.0,1127.8 L1230.0,1127.8 M1243.4,1159.8 L1243.7,1160.5 L1244.0,1161.2 L1244.3,1161.9 L1244.6,1162.6 L1244.9,1163.3 L1245.2,1164.0 L1245.5,1164.7 L1245.8,1165.4 L1246.1,1166.1 L1246.4,1166.8 L1246.7,1167.5 L1247.0,1168.2 L1247.3,1168.9 L1247.6,1169.6 L1247.9,1170.3 L1248.2,1171.0 L1248.5,1171.7 L1248.8,1172.4 L1249.1,1173.1 L1249.4,1173.8 L1249.7,1174.5 L1250.0,1175.2 L1250.3,1175.9 L1250.6,1176.6 L1250.9,1177.3 L1251.2,1178.0 L1251.6,1178.7 L1251.9,1179.4 L1252.2,1180.1 L1252.5,1180.8 L1252.8,1181.5 L1253.1,1182.2 L1253.4,1182.9 L1253.7,1183.6 L1254.1,1184.3 L1254.4,1185.0 L1254.7,1185.7 L1255.0,1186.3 L1255.3,1187.0 L1255.7,1187.7 L1256.0,1188.4 L1256.3,1189.1 L1256.6,1189.8 L1256.9,1190.5 L1257.3,1191.2 L1257.6,1191.9 L1257.8,1192.3 M1275.2,1224.9 L1275.6,1225.5 L1276.0,1226.2 L1276.4,1226.8 L1276.7,1227.5 L1277.1,1228.1 L1277.5,1228.7 L1277.9,1229.3 L1278.3,1230.0 L1278.7,1230.6 L1279.1,1231.2 L1279.5,1231.9 L1279.9,1232.5 L1280.4,1233.1 L1280.8,1233.7 L1281.2,1234.3 L1281.6,1235.0 L1282.0,1235.6 L1282.4,1236.2 L1282.8,1236.8 L1283.3,1237.4 L1283.7,1238.0 L1284.1,1238.6 L1284.5,1239.2 L1284.9,1239.8 L1285.4,1240.4 L1285.8,1241.0 L1286.2,1241.6 L1286.7,1242.2 L1287.1,1242.8 L1287.5,1243.4 L1288.0,1244.0 L1288.4,1244.6 L1288.9,1245.2 L1289.3,1245.8 L1289.8,1246.4 L1290.2,1246.9 L1290.7,1247.5 L1291.1,1248.1 L1291.6,1248.7 L1292.0,1249.3 L1292.5,1249.8 L1293.0,1250.4 L1293.1,1250.6 M1319.3,1276.7 L1319.9,1277.2 L1320.5,1277.6 L1321.1,1278.1 L1321.7,1278.5 L1322.3,1279.0 L1322.9,1279.4 L1323.5,1279.9 L1324.1,1280.3 L1324.7,1280.8 L1325.3,1281.2 L1325.9,1281.6 L1326.5,1282.1 L1327.1,1282.5 L1327.7,1282.9 L1328.4,1283.4 L1329.0,1283.8 L1329.6,1284.2 L1330.2,1284.6 L1330.8,1285.0 L1331.5,1285.4 L1332.1,1285.8 L1332.7,1286.3 L1333.4,1286.7 L1334.0,1287.1 L1334.7,1287.5 L1335.3,1287.9 L1335.9,1288.2 L1336.6,1288.6 L1337.2,1289.0 L1337.9,1289.4 L1338.5,1289.8 L1339.2,1290.2 L1339.8,1290.6 L1340.5,1290.9 L1341.2,1291.3 L1341.8,1291.7 L1342.5,1292.0 L1343.1,1292.4 L1343.8,1292.8 L1344.5,1293.1 L1345.1,1293.5 L1345.8,1293.8 L1346.5,1294.2 L1347.2,1294.5 L1347.8,1294.9 L1347.8,1294.9 M1383.9,1309.0 L1384.7,1309.2 L1385.4,1309.4 L1386.1,1309.6 L1386.9,1309.8 L1387.6,1310.0 L1388.3,1310.2 L1389.1,1310.4 L1389.8,1310.6 L1390.5,1310.8 L1391.3,1310.9 L1392.0,1311.1 L1392.7,1311.3 L1393.5,1311.5 L1394.2,1311.6 L1394.9,1311.8 L1395.7,1312.0 L1396.4,1312.1 L1397.1,1312.3 L1397.9,1312.4 L1398.6,1312.6 L1399.3,1312.7 L1400.1,1312.9 L1400.8,1313.0 L1401.5,1313.2 L1402.3,1313.3 L1403.0,1313.5 L1403.8,1313.6 L1404.5,1313.7 L1405.2,1313.9 L1406.0,1314.0 L1406.7,1314.1 L1407.5,1314.3 L1408.2,1314.4 L1408.9,1314.5 L1409.7,1314.6 L1410.4,1314.7 L1411.1,1314.9 L1411.9,1315.0 L1412.6,1315.1 L1412.9,1315.1 M1452.6,1318.7 L1453.4,1318.7 L1454.1,1318.8 L1454.9,1318.8 L1455.6,1318.8 L1456.4,1318.9 L1457.1,1318.9 L1457.8,1318.9 L1458.6,1319.0 L1459.3,1319.0 L1460.1,1319.0 L1460.8,1319.1 L1461.6,1319.1 L1462.3,1319.1 L1463.1,1319.1 L1463.8,1319.2 L1464.6,1319.2 L1465.3,1319.2 L1466.1,1319.3 L1466.8,1319.3 L1467.6,1319.3 L1468.3,1319.3 L1469.1,1319.4 L1469.8,1319.4 L1470.6,1319.4 L1471.3,1319.5 L1472.1,1319.5 L1472.8,1319.5 L1473.6,1319.5 L1474.3,1319.6 L1475.1,1319.6 L1475.8,1319.6 L1476.6,1319.6 L1477.3,1319.7 L1478.1,1319.7 L1478.8,1319.7 L1479.6,1319.7 L1480.3,1319.8 L1481.1,1319.8 L1481.8,1319.8 L1482.6,1319.9 L1483.3,1319.9 L1484.1,1319.9 L1484.8,1319.9 L1485.6,1320.0 L1486.1,1320.0 M1521.5,1321.0 L1522.3,1321.0 L1523.0,1321.0 L1523.8,1321.0 L1524.5,1321.1 L1525.3,1321.1 L1526.0,1321.1 L1526.8,1321.1 L1527.5,1321.1 L1528.3,1321.2 L1529.0,1321.2 L1529.8,1321.2 L1530.5,1321.2 L1531.3,1321.2 L1532.0,1321.2 L1532.8,1321.3 L1533.5,1321.3 L1534.3,1321.3 L1535.0,1321.3 L1535.8,1321.3 L1536.5,1321.3 L1537.3,1321.4 L1538.0,1321.4 L1538.8,1321.4 L1539.5,1321.4 L1540.3,1321.4 L1541.0,1321.4 L1541.8,1321.5 L1542.5,1321.5 L1543.3,1321.5 L1544.0,1321.5 L1544.8,1321.5 L1545.5,1321.5 L1546.3,1321.6 L1547.0,1321.6 L1547.8,1321.6 L1548.5,1321.6 L1549.3,1321.6 L1550.0,1321.6 L1550.8,1321.6 L1551.5,1321.7 L1552.3,1321.7 L1553.0,1321.7 L1553.8,1321.7 L1554.5,1321.7 L1555.3,1321.7 L1555.5,1321.7 M1591.0,1322.3 L1591.7,1322.3 L1592.5,1322.3 L1593.2,1322.3 L1594.0,1322.3 L1594.7,1322.3 L1595.5,1322.3 L1596.2,1322.4 L1597.0,1322.4 L1597.7,1322.4 L1598.5,1322.4 L1599.2,1322.4 L1600.0,1322.4 L1600.7,1322.4 L1601.5,1322.4 L1602.2,1322.4 L1603.0,1322.4 L1603.7,1322.4 L1604.5,1322.5 L1605.2,1322.5 L1606.0,1322.5 L1606.7,1322.5 L1607.5,1322.5 L1608.2,1322.5 L1609.0,1322.5 L1609.7,1322.5 L1610.5,1322.5 L1611.2,1322.5 L1612.0,1322.5 L1612.7,1322.5 L1613.5,1322.5 L1614.2,1322.6 L1615.0,1322.6 L1615.7,1322.6 L1616.5,1322.6 L1617.2,1322.6 L1618.0,1322.6 L1618.7,1322.6 L1619.5,1322.6 L1620.2,1322.6 L1621.0,1322.6 L1621.7,1322.6 L1622.5,1322.6 L1623.2,1322.6 L1624.0,1322.6 L1624.7,1322.6 L1624.7,1322.6 M1660.5,1322.9 L1661.2,1322.9 L1662.0,1322.9 L1662.7,1322.9 L1663.5,1322.9 L1664.2,1322.9 L1665.0,1322.9 L1665.7,1322.9 L1666.5,1322.9 L1667.2,1322.9 L1668.0,1322.9 L1668.7,1322.9 L1669.5,1322.9 L1670.3,1322.9 L1671.0,1322.9 L1671.8,1322.9 L1672.5,1322.9 L1673.3,1322.9 L1674.0,1322.9 L1674.8,1322.9 L1675.5,1322.9 L1676.3,1322.9 L1677.0,1322.9 L1677.8,1322.9 L1678.5,1323.0 L1679.3,1323.0 L1680.0,1323.0 L1680.8,1323.0 L1681.5,1323.0 L1682.3,1323.0 L1683.0,1323.0 L1683.8,1323.0 L1684.5,1323.0 L1685.3,1323.0 L1686.0,1323.0 L1686.8,1323.0 L1687.5,1323.0 L1688.3,1323.0 L1689.0,1323.0 L1689.8,1323.0 L1690.5,1323.0 L1691.3,1323.0 L1692.0,1323.0 L1692.8,1323.0 L1693.5,1323.0 L1694.3,1323.0 L1694.3,1323.0 M1730.0,1323.0 L1730.8,1323.0 L1731.5,1323.0 L1732.3,1323.0 L1733.0,1323.0 L1733.8,1323.0 L1734.5,1323.0 L1735.3,1323.0 L1736.0,1323.0 L1736.8,1323.0 L1737.5,1323.0 L1738.3,1323.0 L1739.0,1323.0 L1739.8,1323.0 L1740.5,1323.0 L1741.3,1323.0 L1742.0,1323.0 L1742.8,1323.0 L1743.5,1323.0 L1744.3,1323.0 L1745.0,1323.0 L1745.8,1323.0 L1746.5,1323.0 L1747.3,1323.0 L1748.0,1323.0 L1748.8,1323.0 L1749.5,1323.0 L1750.3,1323.0 L1751.0,1323.0 L1751.8,1323.0 L1752.5,1323.0 L1753.3,1323.0 L1754.0,1323.0 L1754.8,1323.0 L1755.5,1323.0 L1756.3,1323.0 L1757.0,1323.0 L1757.8,1323.0 L1758.5,1323.0 L1759.3,1323.0 L1760.0,1323.0 L1760.8,1323.0 L1761.5,1323.0 L1762.3,1323.0 L1763.0,1323.0 L1763.8,1323.0 L1763.8,1323.0 M1799.6,1323.0 L1800.3,1323.0 L1801.1,1323.0 L1801.8,1323.0 L1802.6,1323.0 L1803.3,1323.0 L1804.1,1323.0 L1804.8,1323.0 L1805.6,1323.0 L1806.3,1323.0 L1807.1,1323.0 L1807.8,1323.0 L1808.6,1323.0 L1809.3,1323.0 L1810.1,1323.0 L1810.8,1323.0 L1811.6,1323.0 L1812.3,1323.0 L1813.1,1323.0 L1813.8,1323.0 L1814.6,1323.0 L1815.3,1323.0 L1816.1,1323.0 L1816.8,1323.0 L1817.6,1323.0 L1818.3,1323.0 L1819.1,1323.0 L1819.8,1323.0 L1820.6,1323.0 L1821.3,1323.0 L1822.1,1323.0 L1822.8,1323.0 L1823.6,1323.0 L1824.3,1323.0 L1825.1,1323.0 L1825.8,1323.0 L1826.6,1323.0 L1827.3,1323.0 L1828.1,1323.0 L1828.8,1323.0 L1829.6,1323.0 L1830.3,1323.0 L1831.1,1323.0 L1831.8,1323.0 L1832.6,1323.0 L1833.3,1323.0 L1833.3,1323.0 M1869.1,1323.1 L1869.8,1323.1 L1870.6,1323.1 L1871.3,1323.1 L1872.1,1323.1 L1872.8,1323.1 L1873.6,1323.1 L1874.3,1323.1 L1875.1,1323.1 L1875.8,1323.1 L1876.6,1323.1 L1877.4,1323.1 L1878.1,1323.1 L1878.9,1323.1 L1879.6,1323.1 L1880.4,1323.2 L1881.1,1323.2 L1881.9,1323.2 L1882.6,1323.2 L1883.4,1323.2 L1884.1,1323.2 L1884.9,1323.2 L1885.6,1323.2 L1886.4,1323.2 L1887.1,1323.2 L1887.9,1323.2 L1888.6,1323.2 L1889.4,1323.2 L1890.1,1323.2 L1890.9,1323.2 L1891.6,1323.2 L1892.4,1323.2 L1893.1,1323.2 L1893.9,1323.2 L1894.6,1323.2 L1895.4,1323.2 L1896.1,1323.2 L1896.9,1323.2 L1897.6,1323.2 L1898.4,1323.2 L1899.1,1323.2 L1899.9,1323.3 L1900.6,1323.3 L1901.4,1323.3 L1902.1,1323.3 L1902.9,1323.3 L1902.9,1323.3 M1938.4,1323.6 L1939.1,1323.6 L1939.9,1323.6 L1940.6,1323.6 L1941.4,1323.6 L1942.1,1323.6 L1942.9,1323.6 L1943.6,1323.6 L1944.4,1323.6 L1945.1,1323.6 L1945.9,1323.7 L1946.6,1323.7 L1947.4,1323.7 L1948.1,1323.7 L1948.9,1323.7 L1949.6,1323.7 L1950.4,1323.7 L1951.1,1323.7 L1951.9,1323.7 L1952.6,1323.7 L1953.4,1323.8 L1954.1,1323.8 L1954.9,1323.8 L1955.6,1323.8 L1956.4,1323.8 L1957.1,1323.8 L1957.9,1323.8 L1958.6,1323.8 L1959.4,1323.8 L1960.1,1323.8 L1960.9,1323.9 L1961.6,1323.9 L1962.4,1323.9 L1963.1,1323.9 L1963.9,1323.9 L1964.6,1323.9 L1965.4,1323.9 L1966.1,1323.9 L1966.9,1323.9 L1967.6,1323.9 L1968.4,1324.0 L1968.6,1324.0 M2008.9,1324.6 L2009.6,1324.6 L2010.4,1324.6 L2011.1,1324.6 L2011.9,1324.6 L2012.6,1324.6 L2013.4,1324.6 L2014.1,1324.7 L2014.9,1324.7 L2015.6,1324.7 L2016.4,1324.7 L2017.1,1324.7 L2017.9,1324.7 L2018.6,1324.7 L2019.4,1324.7 L2020.1,1324.7 L2020.9,1324.8 L2021.6,1324.8 L2022.4,1324.8 L2023.1,1324.8 L2023.9,1324.8 L2024.6,1324.8 L2025.4,1324.8 L2026.1,1324.8 L2026.9,1324.8 L2027.6,1324.8 L2028.4,1324.9 L2029.1,1324.9 L2029.9,1324.9 L2030.6,1324.9 L2031.4,1324.9 L2032.1,1324.9 L2032.9,1324.9 L2033.6,1324.9 L2034.4,1324.9 L2035.1,1325.0 L2035.9,1325.0 L2036.6,1325.0 L2037.4,1325.0 L2038.1,1325.0 L2038.9,1325.0 L2038.9,1325.0 M2079.4,1325.4 L2080.1,1325.4 L2080.9,1325.4 L2081.6,1325.4 L2082.4,1325.4 L2083.1,1325.4 L2083.9,1325.4 L2084.6,1325.4 L2085.4,1325.4 L2086.1,1325.4 L2086.9,1325.4 L2087.6,1325.4 L2088.4,1325.4 L2089.1,1325.4 L2089.9,1325.4 L2090.6,1325.4 L2091.4,1325.4 L2092.1,1325.4 L2092.9,1325.4 L2093.6,1325.4 L2094.4,1325.4 L2095.1,1325.4 L2095.9,1325.4 L2096.6,1325.4 L2097.4,1325.4 L2098.2,1325.4 L2098.9,1325.4 L2099.7,1325.4 L2100.4,1325.4 L2101.2,1325.4 L2101.9,1325.4 L2102.7,1325.4 L2103.4,1325.4 L2104.2,1325.4 L2104.9,1325.4 L2105.7,1325.3 L2106.4,1325.3 L2107.2,1325.3 L2107.9,1325.3 L2107.9,1325.3 M2143.6,1320.5 L2144.3,1320.4 L2145.0,1320.3 L2145.7,1320.1 L2146.4,1320.0 L2147.1,1319.9 L2147.8,1319.8 L2148.5,1319.7 L2149.3,1319.7 L2150.0,1319.6 L2150.7,1319.6 L2151.4,1319.5 L2152.1,1319.5 L2152.8,1319.5 L2153.5,1319.5 L2154.3,1319.5 L2155.0,1319.5 L2155.7,1319.6 L2156.4,1319.6 L2157.1,1319.7 L2157.9,1319.7 L2158.6,1319.8 L2159.3,1319.9 L2160.0,1319.9 L2160.8,1320.0 L2161.5,1320.1 L2162.2,1320.2 L2163.0,1320.4 L2163.7,1320.5 L2164.4,1320.6 L2165.2,1320.7 L2165.9,1320.9 L2166.6,1321.0 L2167.4,1321.1 L2168.1,1321.3 L2168.9,1321.4 L2169.6,1321.6 L2170.3,1321.7 L2171.1,1321.9 L2171.8,1322.0 L2172.5,1322.2 L2173.3,1322.3 L2174.0,1322.5 L2174.8,1322.6 L2175.5,1322.8 L2176.3,1322.9 L2177.0,1323.0 L2177.0,1323.0 M2215.0,1327.2 L2215.7,1327.3 L2216.5,1327.3 L2217.2,1327.3 L2218.0,1327.4 L2218.7,1327.4 L2219.5,1327.4 L2220.2,1327.4 L2221.0,1327.5 L2221.7,1327.5 L2222.5,1327.5 L2223.2,1327.5 L2224.0,1327.5 L2224.7,1327.5 L2225.5,1327.6 L2226.2,1327.6 L2227.0,1327.6 L2227.7,1327.6 L2228.5,1327.6 L2229.2,1327.6 L2230.0,1327.6 L2230.7,1327.6 L2231.5,1327.6 L2232.2,1327.6 L2233.0,1327.6 L2233.7,1327.6 L2234.5,1327.6 L2235.2,1327.6 L2236.0,1327.6 L2236.7,1327.6 L2237.5,1327.6 L2238.2,1327.6 L2239.0,1327.6 L2239.7,1327.6 L2240.5,1327.6 L2241.2,1327.6 L2242.0,1327.6 L2242.7,1327.6 L2243.5,1327.6 L2244.2,1327.6 L2245.0,1327.6 L2245.2,1327.6" stroke="#cc22cc" stroke-width="6.3"/>
<path d="M348.2,427.9 L348.3,428.7 L348.4,429.4 L348.5,430.2 L348.6,430.9 L348.8,431.7 L348.9,432.4 L349.0,433.1 L349.1,433.9 L349.3,434.6 L349.4,435.4 L349.5,436.1 L349.7,436.8 L349.8,437.6 L349.9,438.3 L350.0,439.1 L350.2,439.8 L350.3,440.5 L350.4,440.8 M356.9,474.9 L357.1,475.7 L357.2,476.4 L357.4,477.1 L357.6,477.9 L357.7,478.6 L357.9,479.4 L358.0,480.1 L358.2,480.8 L358.3,481.6 L358.5,482.3 L358.6,483.0 L358.8,483.8 L359.0,484.5 L359.1,485.2 L359.3,485.9 L359.4,486.7 L359.6,487.4 L359.8,488.1 L359.9,488.9 L360.1,489.6 L360.2,490.3 L360.4,491.1 L360.6,491.8 L360.7,492.5 L360.9,493.3 L361.1,494.0 L361.2,494.7 L361.4,495.5 L361.6,496.2 L361.7,496.9 L361.9,497.7 L362.0,498.4 L362.2,499.1 L362.4,499.8 L362.5,500.6 L362.7,501.3 L362.9,502.0 L363.1,502.8 L363.2,503.5 L363.4,504.2 L363.6,505.0 L363.7,505.7 L363.9,506.4 L364.1,507.1 L364.2,507.6 M372.9,542.8 L373.1,543.5 L373.2,544.2 L373.4,544.9 L373.6,545.7 L373.8,546.4 L374.0,547.1 L374.2,547.8 L374.4,548.5 L374.6,549.3 L374.8,550.0 L375.0,550.7 L375.1,551.4 L375.3,552.2 L375.5,552.9 L375.7,553.6 L375.9,554.3 L376.1,555.1 L376.3,555.8 L376.5,556.5 L376.7,557.2 L376.9,558.0 L377.1,558.7 L377.3,559.4 L377.5,560.1 L377.7,560.8 L377.9,561.6 L378.1,562.3 L378.3,563.0 L378.4,563.7 L378.6,564.4 L378.8,565.2 L379.0,565.9 L379.2,566.6 L379.4,567.3 L379.6,568.1 L379.8,568.8 L380.0,569.5 L380.2,570.2 L380.4,570.9 L380.6,571.7 L380.8,572.4 L381.0,573.1 L381.2,573.8 L381.4,574.5 L381.6,575.0 M391.2,608.6 L391.4,609.3 L391.6,610.0 L391.8,610.7 L392.0,611.4 L392.2,612.2 L392.4,612.9 L392.6,613.6 L392.9,614.3 L393.1,615.0 L393.3,615.7 L393.5,616.5 L393.7,617.2 L393.9,617.9 L394.1,618.6 L394.4,619.3 L394.6,620.0 L394.8,620.7 L395.0,621.5 L395.2,622.2 L395.5,622.9 L395.7,623.6 L395.9,624.3 L396.1,625.0 L396.3,625.7 L396.6,626.4 L396.8,627.2 L397.0,627.9 L397.2,628.6 L397.5,629.3 L397.7,630.0 L397.9,630.7 L398.2,631.4 L398.4,632.1 L398.6,632.8 L398.9,633.5 L399.1,634.2 L399.4,635.0 L399.6,635.7 L399.8,636.4 L400.1,637.1 L400.3,637.8 L400.6,638.5 L400.8,639.2 L401.1,639.9 L401.1,639.9 M415.2,672.1 L415.6,672.8 L416.0,673.4 L416.3,674.1 L416.7,674.7 L417.1,675.4 L417.5,676.0 L417.8,676.7 L418.2,677.3 L418.6,678.0 L419.0,678.6 L419.4,679.2 L419.8,679.9 L420.2,680.5 L420.6,681.2 L421.0,681.8 L421.4,682.4 L421.8,683.1 L422.3,683.7 L422.7,684.3 L423.1,685.0 L423.5,685.6 L424.0,686.2 L424.4,686.8 L424.9,687.5 L425.3,688.1 L425.8,688.7 L426.2,689.3 L426.7,689.9 L427.1,690.5 L427.6,691.2 L428.1,691.8 L428.5,692.4 L429.0,693.0 L429.5,693.6 L430.0,694.2 L430.5,694.8 L431.0,695.4 L431.5,696.0 L432.0,696.6 L432.1,696.8 M467.6,725.0 L468.2,725.3 L468.9,725.6 L469.6,725.9 L470.2,726.2 L470.9,726.5 L471.6,726.7 L472.3,727.0 L472.9,727.2 L473.6,727.5 L474.3,727.7 L475.0,727.9 L475.6,728.1 L476.3,728.3 L477.0,728.5 L477.7,728.7 L478.4,728.9 L479.0,729.0 L479.7,729.2 L480.4,729.3 L481.1,729.5 L481.8,729.6 L482.5,729.7 L483.1,729.8 L483.8,729.9 L484.5,730.0 L485.2,730.1 L485.9,730.1 L486.5,730.2 L487.2,730.2 L487.9,730.2 L488.6,730.3 L489.3,730.3 L489.9,730.3 L490.6,730.3 L491.3,730.2 L492.0,730.2 L492.7,730.2 L493.3,730.1 L494.0,730.1 L494.7,730.0 L495.4,730.0 L496.1,729.9 L496.7,729.8 L497.4,729.7 L498.1,729.6 L498.8,729.5 L498.8,729.5 M533.1,715.1 L533.8,714.7 L534.4,714.3 L535.1,713.9 L535.8,713.5 L536.5,713.0 L537.1,712.6 L537.8,712.2 L538.5,711.8 L539.2,711.3 L539.8,710.9 L540.5,710.5 L541.2,710.0 L541.8,709.6 L542.5,709.2 L543.2,708.7 L543.9,708.3 L544.5,707.8 L545.2,707.4 L545.9,706.9 L546.6,706.5 L547.2,706.1 L547.9,705.6 L548.6,705.2 L549.3,704.7 L549.9,704.3 L550.6,703.8 L551.3,703.3 L551.9,702.9 L552.6,702.4 L553.3,702.0 L554.0,701.5 L554.6,701.1 L555.3,700.6 L556.0,700.2 L556.7,699.7 L557.3,699.3 L558.0,698.8 L558.7,698.4 L559.3,697.9 L560.0,697.5 L560.0,697.5 M592.4,678.7 L593.1,678.4 L593.8,678.1 L594.4,677.9 L595.1,677.6 L595.8,677.3 L596.4,677.1 L597.1,676.8 L597.8,676.6 L598.4,676.4 L599.1,676.1 L599.8,675.9 L600.4,675.7 L601.1,675.5 L601.8,675.3 L602.5,675.1 L603.1,674.9 L603.8,674.7 L604.5,674.6 L605.1,674.4 L605.8,674.2 L606.5,674.1 L607.1,674.0 L607.8,673.8 L608.5,673.7 L609.1,673.6 L609.8,673.5 L610.5,673.4 L611.1,673.3 L611.8,673.2 L612.5,673.1 L613.1,673.1 L613.8,673.0 L614.5,673.0 L615.2,672.9 L615.8,672.9 L616.5,672.9 L617.2,672.8 L617.8,672.8 L618.5,672.8 L619.2,672.8 L619.8,672.9 L620.5,672.9 L621.2,672.9 L621.8,672.9 L622.5,673.0 L623.2,673.0 L623.8,673.1 L624.5,673.2 L625.2,673.2 L625.8,673.3 L625.8,673.3 M658.7,684.6 L659.4,685.0 L660.0,685.3 L660.7,685.7 L661.4,686.0 L662.0,686.4 L662.7,686.8 L663.4,687.2 L664.0,687.5 L664.7,687.9 L665.4,688.3 L666.0,688.7 L666.7,689.1 L667.4,689.5 L668.0,689.9 L668.7,690.3 L669.4,690.7 L670.0,691.1 L670.7,691.5 L671.4,691.9 L672.0,692.3 L672.7,692.7 L673.3,693.2 L674.0,693.6 L674.7,694.0 L675.3,694.4 L676.0,694.9 L676.7,695.3 L677.3,695.7 L678.0,696.2 L678.7,696.6 L679.3,697.0 L680.0,697.5 L680.7,697.9 L681.3,698.4 L682.0,698.8 L682.7,699.3 L683.3,699.7 L684.0,700.2 L684.6,700.6 L685.3,701.1 L686.0,701.5 L686.6,702.0 L687.3,702.5 L687.8,702.8 M719.3,723.9 L719.9,724.3 L720.6,724.7 L721.3,725.1 L721.9,725.4 L722.6,725.8 L723.3,726.2 L724.0,726.5 L724.6,726.9 L725.3,727.2 L726.0,727.6 L726.6,727.9 L727.3,728.3 L728.0,728.6 L728.7,728.9 L729.3,729.3 L730.0,729.6 L730.7,729.9 L731.4,730.2 L732.0,730.5 L732.7,730.8 L733.4,731.1 L734.1,731.3 L734.7,731.6 L735.4,731.9 L736.1,732.1 L736.8,732.4 L737.4,732.6 L738.1,732.9 L738.8,733.1 L739.5,733.3 L740.2,733.5 L740.8,733.8 L741.5,734.0 L742.2,734.2 L742.9,734.4 L743.6,734.5 L744.2,734.7 L744.9,734.9 L745.6,735.0 L746.3,735.2 L747.0,735.4 L747.6,735.5 L748.3,735.6 L749.0,735.8 L749.7,735.9 L750.4,736.0 L751.1,736.1 L751.7,736.2 L752.4,736.3 L752.9,736.4 M785.3,734.3 L786.0,734.2 L786.7,734.0 L787.4,733.8 L788.1,733.6 L788.7,733.4 L789.4,733.3 L790.1,733.1 L790.8,732.9 L791.5,732.6 L792.2,732.4 L792.8,732.2 L793.5,732.0 L794.2,731.8 L794.9,731.5 L795.6,731.3 L796.2,731.1 L796.9,730.8 L797.6,730.6 L798.3,730.3 L799.0,730.1 L799.6,729.8 L800.3,729.6 L801.0,729.3 L801.7,729.0 L802.3,728.8 L803.0,728.5 L803.7,728.2 L804.4,727.9 L805.0,727.6 L805.7,727.3 L806.4,727.0 L807.1,726.7 L807.7,726.4 L808.4,726.1 L809.1,725.8 L809.7,725.5 L810.4,725.2 L811.1,724.9 L811.8,724.5 L812.4,724.2 L813.1,723.9 L813.8,723.5 L814.4,723.2 L815.1,722.8 L815.8,722.5 L816.2,722.3 M842.9,705.5 L843.5,705.0 L844.2,704.6 L844.8,704.1 L845.4,703.7 L846.1,703.2 L846.7,702.7 L847.3,702.2 L847.9,701.8 L848.6,701.3 L849.2,700.8 L849.8,700.4 L850.4,699.9 L851.1,699.4 L851.7,698.9 L852.3,698.4 L852.9,697.9 L853.5,697.5 L854.1,697.0 L854.8,696.5 L855.4,696.0 L856.0,695.5 L856.6,695.0 L857.2,694.5 L857.8,694.0 L858.4,693.5 L859.0,693.0 L859.6,692.5 L860.3,692.0 L860.9,691.5 L861.5,691.0 L862.1,690.5 L862.7,690.0 L863.3,689.5 L863.9,689.0 L864.5,688.5 L865.1,688.0 L865.6,687.5 L866.0,687.1 M894.2,660.7 L894.7,660.2 L895.2,659.6 L895.8,659.1 L896.3,658.5 L896.8,658.0 L897.4,657.4 L897.9,656.9 L898.4,656.3 L898.9,655.8 L899.5,655.2 L900.0,654.7 L900.5,654.1 L901.0,653.5 L901.5,653.0 L902.1,652.4 L902.6,651.9 L903.1,651.3 L903.6,650.8 L904.1,650.2 L904.6,649.6 L905.1,649.1 L905.6,648.5 L906.2,648.0 L906.7,647.4 L907.2,646.8 L907.7,646.3 L908.2,645.7 L908.7,645.1 L909.2,644.6 L909.7,644.0 L910.2,643.4 L910.7,642.9 L911.2,642.3 L911.7,641.7 L912.2,641.2 L912.7,640.6 L913.2,640.0 L913.7,639.5 L914.1,638.9 L914.6,638.3 L915.1,637.7 L915.5,637.4 M940.7,605.1 L941.1,604.5 L941.6,603.9 L942.0,603.3 L942.4,602.7 L942.9,602.1 L943.3,601.5 L943.7,600.9 L944.2,600.3 L944.6,599.7 L945.0,599.1 L945.5,598.5 L945.9,597.8 L946.3,597.2 L946.7,596.6 L947.2,596.0 L947.6,595.4 L948.0,594.8 L948.4,594.2 L948.8,593.6 L949.3,592.9 L949.7,592.3 L950.1,591.7 L950.5,591.1 L950.9,590.5 L951.3,589.9 L951.8,589.3 L952.2,588.6 L952.6,588.0 L953.0,587.4 L953.4,586.8 L953.8,586.2 L954.2,585.5 L954.6,584.9 L955.0,584.3 L955.5,583.7 L955.9,583.1 L956.3,582.4 L956.7,581.8 L957.1,581.2 L957.5,580.6 L957.9,579.9 L958.3,579.3 L958.7,578.7 L959.1,578.1 L959.5,577.4 L959.8,577.0 M981.0,541.1 L981.4,540.5 L981.8,539.8 L982.1,539.2 L982.5,538.5 L982.8,537.9 L983.2,537.2 L983.5,536.6 L983.9,536.0 L984.2,535.3 L984.6,534.7 L984.9,534.0 L985.3,533.3 L985.6,532.7 L986.0,532.0 L986.3,531.4 L986.7,530.7 L987.0,530.1 L987.4,529.4 L987.7,528.8 L988.1,528.1 L988.4,527.5 L988.8,526.8 L989.1,526.2 L989.5,525.5 L989.8,524.9 L990.2,524.2 L990.5,523.5 L990.8,522.9 L991.2,522.2 L991.5,521.6 L991.9,520.9 L992.2,520.3 L992.5,519.6 L992.9,519.0 L993.2,518.3 L993.6,517.6 L993.9,517.0 L994.2,516.3 L994.6,515.7 L994.7,515.4 M1010.3,483.3 L1010.7,482.6 L1011.0,481.9 L1011.3,481.3 L1011.6,480.6 L1011.9,479.9 L1012.2,479.2 L1012.5,478.6 L1012.8,477.9 L1013.1,477.2 L1013.5,476.5 L1013.8,475.9 L1014.1,475.2 L1014.4,474.5 L1014.7,473.9 L1015.0,473.2 L1015.3,472.5 L1015.6,471.8 L1015.9,471.2 L1016.2,470.5 L1016.5,469.8 L1016.8,469.1 L1017.1,468.4 L1017.5,467.8 L1017.8,467.1 L1018.1,466.4 L1018.4,465.7 L1018.7,465.1 L1019.0,464.4 L1019.3,463.7 L1019.6,463.0 L1019.9,462.4 L1020.2,461.7 L1020.5,461.0 L1020.8,460.3 L1021.1,459.6 L1021.4,459.0 L1021.7,458.3 L1022.0,457.6 L1022.3,456.9 L1022.6,456.2 L1022.9,455.6 L1023.2,454.9 L1023.5,454.2 L1023.8,453.5 L1024.1,452.9 L1024.1,452.9 M1040.8,413.8 L1041.1,413.1 L1041.4,412.5 L1041.7,411.8 L1041.9,411.1 L1042.2,410.4 L1042.5,409.7 L1042.8,409.0 L1043.1,408.3 L1043.4,407.6 L1043.7,406.9 L1044.0,406.3 L1044.2,405.6 L1044.5,404.9 L1044.8,404.2 L1045.1,403.5 L1045.4,402.8 L1045.7,402.1 L1046.0,401.4 L1046.3,400.7 L1046.5,400.0 L1046.8,399.4 L1047.1,398.7 L1047.4,398.0 L1047.7,397.3 L1048.0,396.6 L1048.3,395.9 L1048.6,395.2 L1048.8,394.5 L1049.1,393.8 L1049.4,393.1 L1049.7,392.5 L1050.0,391.8 L1050.3,391.1 L1050.6,390.4 L1050.8,389.7 L1051.0,389.2 M1065.8,353.7 L1066.1,353.0 L1066.4,352.3 L1066.7,351.6 L1067.0,350.9 L1067.3,350.2 L1067.5,349.5 L1067.8,348.8 L1068.1,348.1 L1068.4,347.5 L1068.7,346.8 L1069.0,346.1 L1069.3,345.4 L1069.6,344.7 L1069.9,344.0 L1070.2,343.3 L1070.5,342.6 L1070.8,341.9 L1071.1,341.2 L1071.3,340.5 L1071.6,339.8 L1071.9,339.1 L1072.2,338.4 L1072.5,337.8 L1072.8,337.1 L1073.1,336.4 L1073.4,335.7 L1073.7,335.0 L1074.0,334.3 L1074.3,333.6 L1074.6,332.9 L1074.9,332.2 L1075.2,331.5 L1075.5,330.8 L1075.8,330.1 L1076.1,329.4 L1076.2,329.2 M1092.7,291.7 L1093.0,291.0 L1093.4,290.3 L1093.7,289.6 L1094.0,288.9 L1094.3,288.2 L1094.6,287.6 L1094.9,286.9 L1095.3,286.2 L1095.6,285.5 L1095.9,284.8 L1096.2,284.1 L1096.5,283.4 L1096.9,282.7 L1097.2,282.1 L1097.5,281.4 L1097.8,280.7 L1098.1,280.0 L1098.5,279.3 L1098.8,278.6 L1099.1,277.9 L1099.4,277.3 L1099.7,276.6 L1100.1,275.9 L1100.4,275.2 L1100.7,274.5 L1101.0,273.8 L1101.4,273.1 L1101.7,272.5 L1102.0,271.8 L1102.4,271.1 L1102.7,270.4 L1103.0,269.7 L1103.3,269.0 L1103.7,268.3 L1104.0,267.7 L1104.3,267.0 L1104.7,266.3 L1105.0,265.6 L1105.3,264.9 L1105.6,264.2 L1105.8,264.0 M1123.1,230.0 L1123.4,229.4 L1123.8,228.7 L1124.2,228.0 L1124.5,227.3 L1124.9,226.7 L1125.3,226.0 L1125.6,225.3 L1126.0,224.7 L1126.4,224.0 L1126.7,223.3 L1127.1,222.6 L1127.5,222.0 L1127.8,221.3 L1128.2,220.6 L1128.6,219.9 L1128.9,219.3 L1129.3,218.6 L1129.7,217.9 L1130.1,217.3 L1130.4,216.6 L1130.8,215.9 L1131.2,215.3 L1131.6,214.6 L1132.0,213.9 L1132.3,213.2 L1132.7,212.6 L1133.1,211.9 L1133.5,211.2 L1133.8,210.6 L1134.2,209.9 L1134.6,209.2 L1135.0,208.6 L1135.4,207.9 L1135.8,207.2 L1136.2,206.6 L1136.5,205.9 L1136.9,205.2 L1137.3,204.6 L1137.7,203.9 L1138.1,203.2 L1138.5,202.6 L1138.9,201.9 L1139.3,201.3 L1139.7,200.6 L1139.7,200.6 M1162.4,169.7 L1162.9,169.2 L1163.4,168.7 L1163.9,168.2 L1164.4,167.7 L1164.9,167.2 L1165.5,166.7 L1166.0,166.3 L1166.5,165.8 L1167.0,165.3 L1167.5,164.9 L1168.0,164.4 L1168.6,164.0 L1169.1,163.6 L1169.6,163.1 L1170.2,162.7 L1170.7,162.3 L1171.2,161.9 L1171.8,161.5 L1172.3,161.1 L1172.9,160.7 L1173.4,160.3 L1174.0,159.9 L1174.5,159.5 L1175.1,159.1 L1175.7,158.8 L1176.2,158.4 L1176.8,158.1 L1177.4,157.7 L1178.0,157.4 L1178.6,157.0 L1179.1,156.7 L1179.7,156.4 L1180.3,156.1 L1180.9,155.8 L1181.5,155.5 L1182.1,155.2 L1182.7,154.9 L1183.3,154.6 L1184.0,154.4 L1184.6,154.1 L1185.2,153.9 L1185.8,153.6 L1186.5,153.4 L1187.1,153.1 L1187.7,152.9 L1188.4,152.7 L1189.0,152.5 L1189.7,152.3 L1190.3,152.1 L1190.8,152.0 M1228.5,153.8 L1229.3,154.0 L1230.0,154.3 L1230.8,154.5 L1231.6,154.8 L1232.3,155.1 L1233.1,155.3 L1233.8,155.6 L1234.6,155.9 L1235.3,156.2 L1236.1,156.5 L1236.8,156.9 L1237.5,157.2 L1238.3,157.5 L1239.0,157.8 L1239.7,158.2 L1240.4,158.5 L1241.2,158.9 L1241.9,159.3 L1242.6,159.6 L1243.3,160.0 L1244.0,160.4 L1244.7,160.8 L1245.4,161.2 L1246.0,161.6 L1246.7,162.0 L1247.4,162.4 L1248.1,162.8 L1248.7,163.3 L1249.4,163.7 L1250.0,164.1 L1250.7,164.6 L1251.3,165.0 L1251.9,165.5 L1252.6,166.0 L1253.2,166.4 L1253.8,166.9 L1254.4,167.4 L1255.0,167.9 L1255.6,168.4 L1256.1,168.9 L1256.7,169.4 L1257.3,169.9 L1257.7,170.2 M1281.3,200.3 L1281.7,200.9 L1282.1,201.5 L1282.5,202.2 L1282.9,202.8 L1283.3,203.4 L1283.7,204.1 L1284.1,204.7 L1284.5,205.3 L1284.9,206.0 L1285.3,206.6 L1285.7,207.2 L1286.1,207.9 L1286.5,208.5 L1286.9,209.1 L1287.3,209.8 L1287.7,210.4 L1288.1,211.1 L1288.5,211.7 L1288.9,212.3 L1289.2,213.0 L1289.6,213.6 L1290.0,214.3 L1290.4,214.9 L1290.8,215.6 L1291.2,216.2 L1291.5,216.9 L1291.9,217.5 L1292.3,218.1 L1292.7,218.8 L1293.1,219.4 L1293.4,220.1 L1293.8,220.8 L1294.2,221.4 L1294.5,222.1 L1294.9,222.7 L1295.3,223.4 L1295.6,224.0 L1296.0,224.7 L1296.4,225.3 L1296.7,226.0 L1297.1,226.6 L1297.5,227.3 L1297.8,228.0 L1298.2,228.6 L1298.5,229.3 L1298.5,229.3 M1315.4,263.8 L1315.7,264.4 L1316.1,265.1 L1316.4,265.8 L1316.7,266.5 L1317.0,267.2 L1317.3,267.9 L1317.6,268.6 L1317.9,269.3 L1318.2,270.0 L1318.5,270.6 L1318.8,271.3 L1319.1,272.0 L1319.4,272.7 L1319.7,273.4 L1320.0,274.1 L1320.3,274.8 L1320.6,275.5 L1320.8,276.2 L1321.1,276.9 L1321.4,277.6 L1321.7,278.3 L1322.0,279.0 L1322.3,279.7 L1322.6,280.4 L1322.9,281.0 L1323.2,281.7 L1323.5,282.4 L1323.7,283.1 L1324.0,283.8 L1324.3,284.5 L1324.6,285.2 L1324.9,285.9 L1325.2,286.6 L1325.5,287.3 L1325.7,288.0 L1326.0,288.7 L1326.3,289.4 L1326.6,290.1 L1326.9,290.8 L1327.1,291.5 L1327.4,292.2 L1327.7,292.9 L1328.0,293.6 L1328.2,294.3 L1328.4,294.8 M1341.8,330.8 L1342.1,331.6 L1342.3,332.3 L1342.6,333.0 L1342.8,333.7 L1343.1,334.4 L1343.3,335.1 L1343.5,335.8 L1343.8,336.5 L1344.0,337.2 L1344.3,337.9 L1344.5,338.6 L1344.8,339.3 L1345.0,340.0 L1345.2,340.7 L1345.5,341.5 L1345.7,342.2 L1346.0,342.9 L1346.2,343.6 L1346.4,344.3 L1346.7,345.0 L1346.9,345.7 L1347.2,346.4 L1347.4,347.1 L1347.6,347.8 L1347.9,348.5 L1348.1,349.2 L1348.3,350.0 L1348.6,350.7 L1348.8,351.4 L1349.0,352.1 L1349.3,352.8 L1349.5,353.5 L1349.7,354.2 L1350.0,354.9 L1350.2,355.6 L1350.4,356.3 L1350.7,357.1 L1350.9,357.8 L1351.1,358.5 L1351.4,359.2 L1351.6,359.9 L1351.8,360.6 L1352.1,361.3 L1352.3,362.0 L1352.5,362.7 L1352.5,362.7 M1363.9,399.4 L1364.1,400.1 L1364.3,400.8 L1364.5,401.5 L1364.7,402.2 L1364.9,402.9 L1365.2,403.7 L1365.4,404.4 L1365.6,405.1 L1365.8,405.8 L1366.0,406.5 L1366.2,407.2 L1366.4,408.0 L1366.6,408.7 L1366.9,409.4 L1367.1,410.1 L1367.3,410.8 L1367.5,411.5 L1367.7,412.3 L1367.9,413.0 L1368.1,413.7 L1368.3,414.4 L1368.5,415.1 L1368.8,415.8 L1369.0,416.6 L1369.2,417.3 L1369.4,418.0 L1369.6,418.7 L1369.7,419.2 M1379.9,454.4 L1380.1,455.1 L1380.3,455.8 L1380.5,456.6 L1380.7,457.3 L1380.9,458.0 L1381.1,458.7 L1381.3,459.4 L1381.5,460.2 L1381.8,460.9 L1382.0,461.6 L1382.2,462.3 L1382.4,463.0 L1382.6,463.8 L1382.8,464.5 L1383.0,465.2 L1383.2,465.9 L1383.4,466.6 L1383.6,467.4 L1383.8,468.1 L1384.0,468.8 L1384.2,469.5 L1384.4,470.2 L1384.6,471.0 L1384.8,471.7 L1385.0,472.4 L1385.2,473.1 L1385.5,473.8 L1385.7,474.6 L1385.9,475.3 L1386.1,476.0 L1386.3,476.7 L1386.5,477.4 L1386.7,478.2 L1386.9,478.9 L1387.1,479.6 L1387.3,480.3 L1387.5,481.0 L1387.7,481.8 L1387.9,482.5 L1388.1,483.2 L1388.3,483.9 L1388.5,484.7 L1388.7,485.4 L1388.9,486.1 L1389.1,486.8 L1389.3,487.5 L1389.5,488.0 M1398.7,520.5 L1398.9,521.2 L1399.1,521.9 L1399.3,522.7 L1399.5,523.4 L1399.7,524.1 L1399.9,524.8 L1400.1,525.5 L1400.3,526.3 L1400.5,527.0 L1400.7,527.7 L1400.9,528.4 L1401.1,529.2 L1401.3,529.9 L1401.5,530.6 L1401.7,531.3 L1401.9,532.0 L1402.1,532.8 L1402.3,533.5 L1402.5,534.2 L1402.7,534.9 L1402.9,535.7 L1403.1,536.4 L1403.3,537.1 L1403.5,537.8 L1403.7,538.6 L1404.0,539.3 L1404.2,540.0 L1404.4,540.7 L1404.6,541.4 L1404.8,542.2 L1405.0,542.9 L1405.2,543.6 L1405.4,544.3 L1405.6,545.1 L1405.8,545.8 L1406.0,546.5 L1406.2,547.2 L1406.4,547.9 L1406.6,548.7 L1406.8,549.4 L1407.0,550.1 L1407.2,550.8 L1407.4,551.6 L1407.6,552.3 L1407.8,553.0 L1407.9,553.5 M1417.6,588.0 L1417.8,588.7 L1418.0,589.4 L1418.2,590.1 L1418.4,590.9 L1418.6,591.6 L1418.8,592.3 L1419.0,593.0 L1419.2,593.8 L1419.4,594.5 L1419.6,595.2 L1419.8,595.9 L1420.0,596.7 L1420.2,597.4 L1420.5,598.1 L1420.7,598.8 L1420.9,599.6 L1421.1,600.3 L1421.3,601.0 L1421.5,601.7 L1421.7,602.4 L1421.9,603.2 L1422.1,603.9 L1422.3,604.6 L1422.5,605.3 L1422.7,606.1 L1422.9,606.8 L1423.1,607.5 L1423.3,608.2 L1423.5,609.0 L1423.7,609.7 L1423.9,610.4 L1424.1,611.1 L1424.3,611.9 L1424.5,612.6 L1424.7,613.3 L1424.9,614.0 L1425.1,614.8 L1425.3,615.5 L1425.5,616.2 L1425.7,616.9 L1425.9,617.6 L1426.1,618.4 L1426.3,619.1 L1426.5,619.8 L1426.7,620.5 L1426.9,621.0 M1436.5,655.3 L1436.7,656.0 L1436.9,656.7 L1437.1,657.5 L1437.3,658.2 L1437.5,658.9 L1437.7,659.6 L1437.9,660.4 L1438.1,661.1 L1438.3,661.8 L1438.5,662.5 L1438.7,663.2 L1438.9,664.0 L1439.1,664.7 L1439.4,665.4 L1439.6,666.1 L1439.8,666.9 L1440.0,667.6 L1440.2,668.3 L1440.4,669.0 L1440.6,669.8 L1440.8,670.5 L1441.0,671.2 L1441.2,671.9 L1441.4,672.7 L1441.6,673.4 L1441.8,674.1 L1442.0,674.8 L1442.2,675.5 L1442.4,676.3 L1442.6,677.0 L1442.8,677.7 L1443.0,678.4 L1443.2,679.2 L1443.4,679.9 L1443.6,680.6 L1443.8,681.3 L1444.0,682.1 L1444.3,682.8 L1444.5,683.5 L1444.7,684.2 L1444.9,685.0 L1444.9,685.2 M1454.9,720.4 L1455.1,721.1 L1455.3,721.8 L1455.5,722.6 L1455.8,723.3 L1456.0,724.0 L1456.2,724.7 L1456.4,725.4 L1456.6,726.2 L1456.8,726.9 L1457.0,727.6 L1457.2,728.3 L1457.4,729.1 L1457.6,729.8 L1457.8,730.5 L1458.0,731.2 L1458.2,731.9 L1458.4,732.7 L1458.6,733.4 L1458.8,734.1 L1459.1,734.8 L1459.3,735.6 L1459.5,736.3 L1459.7,737.0 L1459.9,737.7 L1460.1,738.5 L1460.3,739.2 L1460.5,739.9 L1460.7,740.6 L1460.9,741.3 L1461.1,742.1 L1461.3,742.8 L1461.5,743.5 L1461.7,744.2 L1462.0,744.9 L1462.2,745.7 L1462.4,746.4 L1462.6,747.1 L1462.8,747.8 L1463.0,748.6 L1463.2,749.3 L1463.4,750.0 L1463.6,750.7 L1463.8,751.4 L1464.0,752.2 L1464.2,752.9 L1464.4,753.6 L1464.7,754.3 L1464.9,755.1 L1464.9,755.1 M1474.5,788.2 L1474.7,788.9 L1474.9,789.7 L1475.1,790.4 L1475.3,791.1 L1475.5,791.8 L1475.7,792.5 L1476.0,793.3 L1476.2,794.0 L1476.4,794.7 L1476.6,795.4 L1476.8,796.1 L1477.0,796.9 L1477.2,797.6 L1477.4,798.3 L1477.6,799.0 L1477.9,799.7 L1478.1,800.5 L1478.3,801.2 L1478.5,801.9 L1478.7,802.6 L1478.9,803.3 L1479.1,804.1 L1479.3,804.8 L1479.6,805.5 L1479.8,806.2 L1480.0,806.9 L1480.2,807.7 L1480.4,808.4 L1480.6,809.1 L1480.8,809.8 L1481.0,810.5 L1481.2,811.3 L1481.5,812.0 L1481.7,812.7 L1481.9,813.4 L1482.1,814.1 L1482.3,814.9 L1482.5,815.6 L1482.7,816.3 L1482.9,817.0 L1483.2,817.7 L1483.4,818.4 L1483.6,819.2 L1483.8,819.9 L1484.0,820.6 L1484.2,821.3 L1484.4,822.0 L1484.5,822.3 M1494.1,854.3 L1494.3,855.1 L1494.5,855.8 L1494.7,856.5 L1495.0,857.2 L1495.2,857.9 L1495.4,858.6 L1495.6,859.4 L1495.8,860.1 L1496.0,860.8 L1496.3,861.5 L1496.5,862.2 L1496.7,862.9 L1496.9,863.7 L1497.1,864.4 L1497.3,865.1 L1497.6,865.8 L1497.8,866.5 L1498.0,867.2 L1498.2,868.0 L1498.4,868.7 L1498.7,869.4 L1498.9,870.1 L1499.1,870.8 L1499.3,871.5 L1499.5,872.2 L1499.7,873.0 L1500.0,873.7 L1500.2,874.4 L1500.4,875.1 L1500.6,875.8 L1500.8,876.5 L1501.1,877.3 L1501.3,878.0 L1501.5,878.7 L1501.7,879.4 L1501.9,880.1 L1502.1,880.8 L1502.4,881.5 L1502.6,882.3 L1502.8,883.0 L1503.0,883.7 L1503.2,884.4 L1503.5,885.1 L1503.7,885.8 L1503.9,886.5 L1504.1,887.3 L1504.3,888.0 L1504.3,888.0 M1514.8,921.5 L1515.0,922.2 L1515.2,922.9 L1515.4,923.6 L1515.7,924.3 L1515.9,925.1 L1516.1,925.8 L1516.3,926.5 L1516.6,927.2 L1516.8,927.9 L1517.0,928.6 L1517.2,929.3 L1517.5,930.0 L1517.7,930.7 L1517.9,931.5 L1518.1,932.2 L1518.4,932.9 L1518.6,933.6 L1518.8,934.3 L1519.0,935.0 L1519.3,935.7 L1519.5,936.4 L1519.7,937.1 L1519.9,937.9 L1520.2,938.6 L1520.4,939.3 L1520.6,940.0 L1520.8,940.7 L1521.1,941.4 L1521.3,942.1 L1521.5,942.8 L1521.7,943.5 L1522.0,944.2 L1522.2,945.0 L1522.4,945.7 L1522.7,946.4 L1522.9,947.1 L1523.1,947.8 L1523.3,948.5 L1523.6,949.2 L1523.8,949.9 L1524.0,950.6 L1524.3,951.3 L1524.5,952.1 L1524.7,952.8 L1524.9,953.2 M1535.1,984.6 L1535.4,985.3 L1535.6,986.0 L1535.8,986.7 L1536.1,987.5 L1536.3,988.2 L1536.6,988.9 L1536.8,989.6 L1537.0,990.3 L1537.3,991.0 L1537.5,991.7 L1537.7,992.4 L1538.0,993.1 L1538.2,993.8 L1538.5,994.5 L1538.7,995.2 L1538.9,995.9 L1539.2,996.6 L1539.4,997.3 L1539.6,998.1 L1539.9,998.8 L1540.1,999.5 L1540.4,1000.2 L1540.6,1000.9 L1540.8,1001.6 L1541.1,1002.3 L1541.3,1003.0 L1541.6,1003.7 L1541.8,1004.4 L1542.0,1005.1 L1542.3,1005.8 L1542.5,1006.5 L1542.8,1007.2 L1543.0,1007.9 L1543.3,1008.6 L1543.5,1009.3 L1543.7,1010.0 L1544.0,1010.8 L1544.2,1011.5 L1544.5,1012.2 L1544.7,1012.9 L1545.0,1013.6 L1545.2,1014.3 L1545.4,1015.0 L1545.7,1015.7 L1545.9,1016.4 L1546.2,1017.1 L1546.4,1017.8 L1546.7,1018.5 L1546.7,1018.5 M1559.0,1053.0 L1559.2,1053.7 L1559.5,1054.4 L1559.7,1055.1 L1560.0,1055.8 L1560.2,1056.5 L1560.5,1057.2 L1560.8,1057.9 L1561.0,1058.6 L1561.3,1059.3 L1561.5,1060.0 L1561.8,1060.7 L1562.1,1061.4 L1562.3,1062.1 L1562.6,1062.8 L1562.8,1063.5 L1563.1,1064.2 L1563.4,1064.9 L1563.6,1065.6 L1563.9,1066.3 L1564.2,1067.0 L1564.4,1067.7 L1564.7,1068.4 L1564.9,1069.1 L1565.2,1069.9 L1565.5,1070.6 L1565.7,1071.3 L1566.0,1072.0 L1566.3,1072.7 L1566.5,1073.4 L1566.8,1074.1 L1567.1,1074.8 L1567.3,1075.5 L1567.6,1076.2 L1567.9,1076.9 L1568.1,1077.6 L1568.4,1078.3 L1568.7,1079.0 L1568.9,1079.7 L1569.2,1080.4 L1569.5,1081.1 L1569.7,1081.8 L1570.0,1082.5 L1570.3,1083.2 L1570.5,1083.9 L1570.8,1084.6 L1571.0,1085.1 M1584.1,1118.0 L1584.4,1118.7 L1584.7,1119.4 L1585.0,1120.1 L1585.2,1120.8 L1585.5,1121.5 L1585.8,1122.2 L1586.1,1122.9 L1586.4,1123.6 L1586.7,1124.3 L1587.0,1125.0 L1587.3,1125.7 L1587.6,1126.4 L1587.8,1127.1 L1588.1,1127.8 L1588.4,1128.5 L1588.7,1129.2 L1589.0,1129.9 L1589.3,1130.6 L1589.6,1131.3 L1589.9,1132.0 L1590.2,1132.7 L1590.5,1133.4 L1590.8,1134.1 L1591.1,1134.8 L1591.4,1135.5 L1591.7,1136.2 L1592.0,1136.9 L1592.3,1137.6 L1592.6,1138.3 L1592.9,1139.0 L1593.2,1139.7 L1593.5,1140.4 L1593.8,1141.1 L1594.1,1141.8 L1594.4,1142.5 L1594.7,1143.2 L1595.0,1143.9 L1595.3,1144.6 L1595.6,1145.3 L1595.9,1146.0 L1596.2,1146.7 L1596.5,1147.4 L1596.8,1148.1 L1597.1,1148.8 L1597.4,1149.5 L1597.7,1150.2 L1598.0,1150.9 L1598.0,1150.9 M1610.1,1177.9 L1610.5,1178.6 L1610.8,1179.2 L1611.1,1179.9 L1611.4,1180.6 L1611.8,1181.3 L1612.1,1182.0 L1612.4,1182.7 L1612.8,1183.4 L1613.1,1184.1 L1613.4,1184.8 L1613.7,1185.5 L1614.1,1186.2 L1614.4,1186.9 L1614.7,1187.5 L1615.1,1188.2 L1615.4,1188.9 L1615.8,1189.6 L1616.1,1190.3 L1616.4,1191.0 L1616.8,1191.7 L1617.1,1192.3 L1617.5,1193.0 L1617.8,1193.7 L1618.1,1194.4 L1618.5,1195.1 L1618.8,1195.8 L1619.2,1196.4 L1619.5,1197.1 L1619.9,1197.8 L1620.2,1198.5 L1620.6,1199.2 L1620.9,1199.8 L1621.3,1200.5 L1621.6,1201.2 L1622.0,1201.9 L1622.3,1202.5 L1622.7,1203.2 L1623.0,1203.9 L1623.4,1204.5 L1623.8,1205.2 L1624.1,1205.9 L1624.5,1206.5 L1624.8,1207.2 L1625.2,1207.9 L1625.6,1208.5 L1625.7,1208.8 M1644.3,1238.7 L1644.7,1239.3 L1645.1,1239.9 L1645.6,1240.5 L1646.0,1241.1 L1646.4,1241.6 L1646.9,1242.2 L1647.3,1242.8 L1647.8,1243.4 L1648.2,1244.0 L1648.7,1244.6 L1649.1,1245.2 L1649.5,1245.8 L1650.0,1246.3 L1650.4,1246.9 L1650.9,1247.5 L1651.4,1248.1 L1651.8,1248.6 L1652.3,1249.2 L1652.7,1249.8 L1653.2,1250.4 L1653.7,1250.9 L1654.1,1251.5 L1654.6,1252.0 L1655.1,1252.6 L1655.5,1253.2 L1656.0,1253.7 L1656.5,1254.3 L1657.0,1254.8 L1657.4,1255.4 L1657.9,1255.9 L1658.4,1256.5 L1658.9,1257.0 L1659.4,1257.5 L1659.9,1258.1 L1660.4,1258.6 L1660.8,1259.2 L1661.3,1259.7 L1661.8,1260.2 L1662.3,1260.8 L1662.8,1261.3 L1663.3,1261.8 L1663.8,1262.3 L1664.2,1262.7 M1692.3,1285.5 L1692.9,1285.9 L1693.5,1286.3 L1694.1,1286.7 L1694.8,1287.0 L1695.4,1287.4 L1696.0,1287.8 L1696.7,1288.2 L1697.3,1288.5 L1697.9,1288.9 L1698.6,1289.3 L1699.2,1289.6 L1699.9,1290.0 L1700.5,1290.3 L1701.2,1290.7 L1701.8,1291.0 L1702.5,1291.4 L1703.1,1291.7 L1703.8,1292.1 L1704.5,1292.4 L1705.1,1292.7 L1705.8,1293.1 L1706.4,1293.4 L1707.1,1293.7 L1707.8,1294.0 L1708.5,1294.4 L1709.1,1294.7 L1709.8,1295.0 L1710.5,1295.3 L1711.2,1295.6 L1711.8,1295.9 L1712.5,1296.2 L1713.2,1296.5 L1713.9,1296.8 L1714.6,1297.1 L1715.3,1297.4 L1715.5,1297.5 M1759.1,1311.0 L1759.8,1311.1 L1760.6,1311.3 L1761.3,1311.4 L1762.1,1311.6 L1762.8,1311.7 L1763.6,1311.9 L1764.3,1312.0 L1765.0,1312.1 L1765.8,1312.3 L1766.5,1312.4 L1767.3,1312.6 L1768.0,1312.7 L1768.8,1312.8 L1769.5,1313.0 L1770.2,1313.1 L1771.0,1313.2 L1771.7,1313.3 L1772.5,1313.5 L1773.2,1313.6 L1774.0,1313.7 L1774.7,1313.8 L1775.5,1313.9 L1776.2,1314.0 L1776.9,1314.2 L1777.7,1314.3 L1778.4,1314.4 L1779.2,1314.5 L1779.9,1314.6 L1780.7,1314.7 L1781.4,1314.8 L1782.2,1314.9 L1782.9,1315.0 L1783.6,1315.1 L1784.4,1315.2 L1785.1,1315.3 L1785.9,1315.4 L1786.6,1315.5 L1787.4,1315.6 L1788.1,1315.6 L1788.9,1315.7 L1789.6,1315.8 L1790.4,1315.9 L1791.1,1316.0 L1791.8,1316.1 L1792.6,1316.1 L1793.3,1316.2 L1794.1,1316.3 L1794.8,1316.4 L1795.6,1316.4 L1796.3,1316.5 L1797.1,1316.6 L1797.8,1316.7 L1798.6,1316.7 L1798.6,1316.7 M1831.7,1318.6 L1832.5,1318.6 L1833.2,1318.7 L1834.0,1318.7 L1834.7,1318.7 L1835.5,1318.7 L1836.2,1318.7 L1837.0,1318.7 L1837.7,1318.8 L1838.5,1318.8 L1839.2,1318.8 L1840.0,1318.8 L1840.7,1318.8 L1841.5,1318.8 L1842.2,1318.9 L1843.0,1318.9 L1843.7,1318.9 L1844.5,1318.9 L1845.2,1318.9 L1846.0,1318.9 L1846.7,1318.9 L1847.5,1318.9 L1848.2,1318.9 L1849.0,1319.0 L1849.7,1319.0 L1850.5,1319.0 L1851.3,1319.0 L1852.0,1319.0 L1852.8,1319.0 L1853.5,1319.0 L1854.3,1319.0 L1855.0,1319.0 L1855.8,1319.0 L1856.5,1319.0 L1857.3,1319.0 L1858.0,1319.0 L1858.8,1319.0 L1859.5,1319.0 L1860.3,1319.0 L1861.0,1319.1 L1861.8,1319.1 L1862.5,1319.1 L1863.3,1319.1 L1864.0,1319.1 L1864.8,1319.1 L1865.0,1319.1 M1900.0,1319.3 L1900.8,1319.3 L1901.5,1319.3 L1902.3,1319.3 L1903.0,1319.3 L1903.8,1319.3 L1904.5,1319.3 L1905.3,1319.3 L1906.0,1319.3 L1906.8,1319.3 L1907.5,1319.3 L1908.3,1319.4 L1909.0,1319.4 L1909.8,1319.4 L1910.5,1319.4 L1911.3,1319.4 L1912.0,1319.4 L1912.8,1319.4 L1913.5,1319.4 L1914.3,1319.4 L1915.0,1319.4 L1915.8,1319.4 L1916.5,1319.5 L1917.3,1319.5 L1918.0,1319.5 L1918.8,1319.5 L1919.5,1319.5 L1920.3,1319.5 L1921.0,1319.5 L1921.8,1319.5 L1922.5,1319.5 L1923.3,1319.5 L1924.0,1319.6 L1924.8,1319.6 L1925.5,1319.6 L1926.3,1319.6 L1927.0,1319.6 L1927.8,1319.6 L1928.5,1319.6 L1929.3,1319.6 L1930.0,1319.6 L1930.8,1319.7 L1931.5,1319.7 L1932.3,1319.7 L1933.0,1319.7 L1933.6,1319.7 M1972.1,1320.4 L1972.8,1320.5 L1973.5,1320.5 L1974.3,1320.5 L1975.0,1320.5 L1975.8,1320.5 L1976.5,1320.5 L1977.3,1320.6 L1978.0,1320.6 L1978.8,1320.6 L1979.5,1320.6 L1980.3,1320.6 L1981.0,1320.6 L1981.8,1320.7 L1982.5,1320.7 L1983.3,1320.7 L1984.0,1320.7 L1984.8,1320.7 L1985.5,1320.7 L1986.3,1320.8 L1987.0,1320.8 L1987.8,1320.8 L1988.5,1320.8 L1989.3,1320.8 L1990.0,1320.8 L1990.8,1320.9 L1991.5,1320.9 L1992.3,1320.9 L1993.0,1320.9 L1993.8,1320.9 L1994.5,1321.0 L1995.3,1321.0 L1996.0,1321.0 L1996.8,1321.0 L1997.5,1321.0 L1998.3,1321.0 L1999.0,1321.1 L1999.8,1321.1 L2000.5,1321.1 L2001.3,1321.1 L2002.0,1321.1 L2002.8,1321.2 L2003.5,1321.2 L2003.8,1321.2 M2042.3,1322.2 L2043.0,1322.2 L2043.8,1322.2 L2044.5,1322.2 L2045.3,1322.3 L2046.0,1322.3 L2046.8,1322.3 L2047.5,1322.3 L2048.3,1322.4 L2049.0,1322.4 L2049.8,1322.4 L2050.5,1322.4 L2051.3,1322.4 L2052.0,1322.5 L2052.8,1322.5 L2053.5,1322.5 L2054.3,1322.5 L2055.0,1322.5 L2055.8,1322.6 L2056.5,1322.6 L2057.3,1322.6 L2058.0,1322.6 L2058.8,1322.6 L2059.5,1322.7 L2060.3,1322.7 L2061.0,1322.7 L2061.8,1322.7 L2062.5,1322.7 L2063.3,1322.8 L2064.0,1322.8 L2064.8,1322.8 L2065.5,1322.8 L2066.3,1322.8 L2067.0,1322.9 L2067.8,1322.9 L2068.5,1322.9 L2069.3,1322.9 L2070.0,1322.9 L2070.8,1323.0 L2071.5,1323.0 L2072.3,1323.0 L2073.0,1323.0 L2073.8,1323.0 L2074.3,1323.1 M2111.0,1324.0 L2111.7,1324.0 L2112.5,1324.1 L2113.2,1324.1 L2114.0,1324.1 L2114.7,1324.1 L2115.5,1324.1 L2116.2,1324.2 L2117.0,1324.2 L2117.7,1324.2 L2118.5,1324.2 L2119.2,1324.2 L2120.0,1324.2 L2120.7,1324.3 L2121.5,1324.3 L2122.2,1324.3 L2123.0,1324.3 L2123.7,1324.3 L2124.5,1324.4 L2125.2,1324.4 L2126.0,1324.4 L2126.7,1324.4 L2127.5,1324.4 L2128.2,1324.4 L2129.0,1324.5 L2129.7,1324.5 L2130.5,1324.5 L2131.2,1324.5 L2132.0,1324.5 L2132.7,1324.6 L2133.5,1324.6 L2134.2,1324.6 L2135.0,1324.6 L2135.7,1324.6 L2136.5,1324.6 L2137.2,1324.7 L2138.0,1324.7 L2138.7,1324.7 L2139.5,1324.7 L2140.2,1324.7 L2141.0,1324.7 L2141.7,1324.8 L2142.5,1324.8 L2143.0,1324.8 M2179.7,1325.5 L2180.5,1325.5 L2181.2,1325.5 L2182.0,1325.5 L2182.7,1325.6 L2183.5,1325.6 L2184.2,1325.6 L2185.0,1325.6 L2185.7,1325.6 L2186.5,1325.6 L2187.2,1325.6 L2188.0,1325.6 L2188.7,1325.7 L2189.5,1325.7 L2190.2,1325.7 L2191.0,1325.7 L2191.7,1325.7 L2192.5,1325.7 L2193.2,1325.7 L2194.0,1325.7 L2194.7,1325.7 L2195.5,1325.8 L2196.2,1325.8 L2197.0,1325.8 L2197.7,1325.8 L2198.5,1325.8 L2199.2,1325.8 L2200.0,1325.8 L2200.7,1325.8 L2201.5,1325.8 L2202.2,1325.8 L2203.0,1325.9 L2203.7,1325.9 L2204.5,1325.9 L2205.2,1325.9 L2206.0,1325.9 L2206.7,1325.9 L2207.5,1325.9 L2208.2,1325.9 L2209.0,1325.9 L2209.7,1325.9 L2210.5,1325.9 L2211.2,1325.9 L2212.0,1326.0 L2212.7,1326.0 L2213.2,1326.0 M2248.5,1326.2 L2249.3,1326.2 L2250.0,1326.2 L2250.8,1326.2 L2251.5,1326.2 L2252.3,1326.2 L2253.0,1326.2 L2253.8,1326.2 L2254.5,1326.2 L2255.3,1326.2 L2256.0,1326.2 L2256.8,1326.2 L2257.0,1326.2" stroke="#44d43c" stroke-width="6.3"/>
</g>
<g stroke="#000" stroke-width="6" stroke-linecap="butt">
<line x1="348.0" y1="29.3" x2="348.0" y2="1467.1" />
<line x1="330.0" y1="1437.1" x2="2260.5" y2="1437.1" />
<line x1="316.0" y1="1320.0" x2="348.0" y2="1320.0" />
<line x1="330.0" y1="1202.9" x2="348.0" y2="1202.9" />
<line x1="316.0" y1="1085.9" x2="348.0" y2="1085.9" />
<line x1="330.0" y1="968.8" x2="348.0" y2="968.8" />
<line x1="316.0" y1="851.8" x2="348.0" y2="851.8" />
<line x1="330.0" y1="734.7" x2="348.0" y2="734.7" />
<line x1="316.0" y1="617.6" x2="348.0" y2="617.6" />
<line x1="330.0" y1="500.6" x2="348.0" y2="500.6" />
<line x1="316.0" y1="383.5" x2="348.0" y2="383.5" />
<line x1="330.0" y1="266.5" x2="348.0" y2="266.5" />
<line x1="316.0" y1="149.4" x2="348.0" y2="149.4" />
<line x1="330.0" y1="32.3" x2="348.0" y2="32.3" />
<line x1="348.0" y1="1437.1" x2="348.0" y2="1467.1" />
<line x1="539.0" y1="1437.1" x2="539.0" y2="1453.1" />
<line x1="729.9" y1="1437.1" x2="729.9" y2="1467.1" />
<line x1="920.9" y1="1437.1" x2="920.9" y2="1453.1" />
<line x1="1111.8" y1="1437.1" x2="1111.8" y2="1467.1" />
<line x1="1302.8" y1="1437.1" x2="1302.8" y2="1453.1" />
<line x1="1493.7" y1="1437.1" x2="1493.7" y2="1467.1" />
<line x1="1684.7" y1="1437.1" x2="1684.7" y2="1453.1" />
<line x1="1875.6" y1="1437.1" x2="1875.6" y2="1467.1" />
<line x1="2066.6" y1="1437.1" x2="2066.6" y2="1453.1" />
<line x1="2257.5" y1="1437.1" x2="2257.5" y2="1467.1" />
</g>
<g font-size="62" stroke="#000" stroke-width="0.6">
<text transform="translate(299.5,1337.8) scale(1,1.045)" text-anchor="end">0.0</text>
<text transform="translate(299.5,1103.7) scale(1,1.045)" text-anchor="end">0.2</text>
<text transform="translate(299.5,869.6) scale(1,1.045)" text-anchor="end">0.4</text>
<text transform="translate(299.5,635.4) scale(1,1.045)" text-anchor="end">0.6</text>
<text transform="translate(299.5,401.3) scale(1,1.045)" text-anchor="end">0.8</text>
<text transform="translate(299.5,167.2) scale(1,1.045)" text-anchor="end">1.0</text>
<text transform="translate(348.0,1532) scale(1,1.045)" text-anchor="middle">250</text>
<text transform="translate(729.9,1532) scale(1,1.045)" text-anchor="middle">300</text>
<text transform="translate(1111.8,1532) scale(1,1.045)" text-anchor="middle">350</text>
<text transform="translate(1493.7,1532) scale(1,1.045)" text-anchor="middle">400</text>
<text transform="translate(1875.6,1532) scale(1,1.045)" text-anchor="middle">450</text>
<text transform="translate(2257.5,1532) scale(1,1.045)" text-anchor="middle">500</text>
</g>
<g font-size="75.5">
<text x="1302.5" y="1651.5" text-anchor="middle">Wavelength (nm)</text>
<text transform="translate(99.3,783.2) rotate(-90)" text-anchor="middle">Absorbance (normalized)</text>
</g>
<g font-size="75.5">
<line x1="1862" y1="102.6" x2="2037" y2="102.6" stroke="#1f6b28" stroke-width="7.5" />
<text x="2053.5" y="128.3">M1a</text>
<line x1="1862" y1="195.6" x2="2037" y2="195.6" stroke="#5e1557" stroke-width="7.5" />
<text x="2053.5" y="221.0">M3a</text>
<line x1="1862" y1="288.6" x2="2037" y2="288.6" stroke="#cc22cc" stroke-width="7.5" stroke-dasharray="36 33.5" />
<text x="2053.5" y="313.7">M4</text>
<line x1="1862" y1="381.6" x2="2037" y2="381.6" stroke="#44d43c" stroke-width="7.5" stroke-dasharray="36 33.5" />
<text x="2053.5" y="406.4">P4</text>
</g>
</g>
</svg>
</body></html>
